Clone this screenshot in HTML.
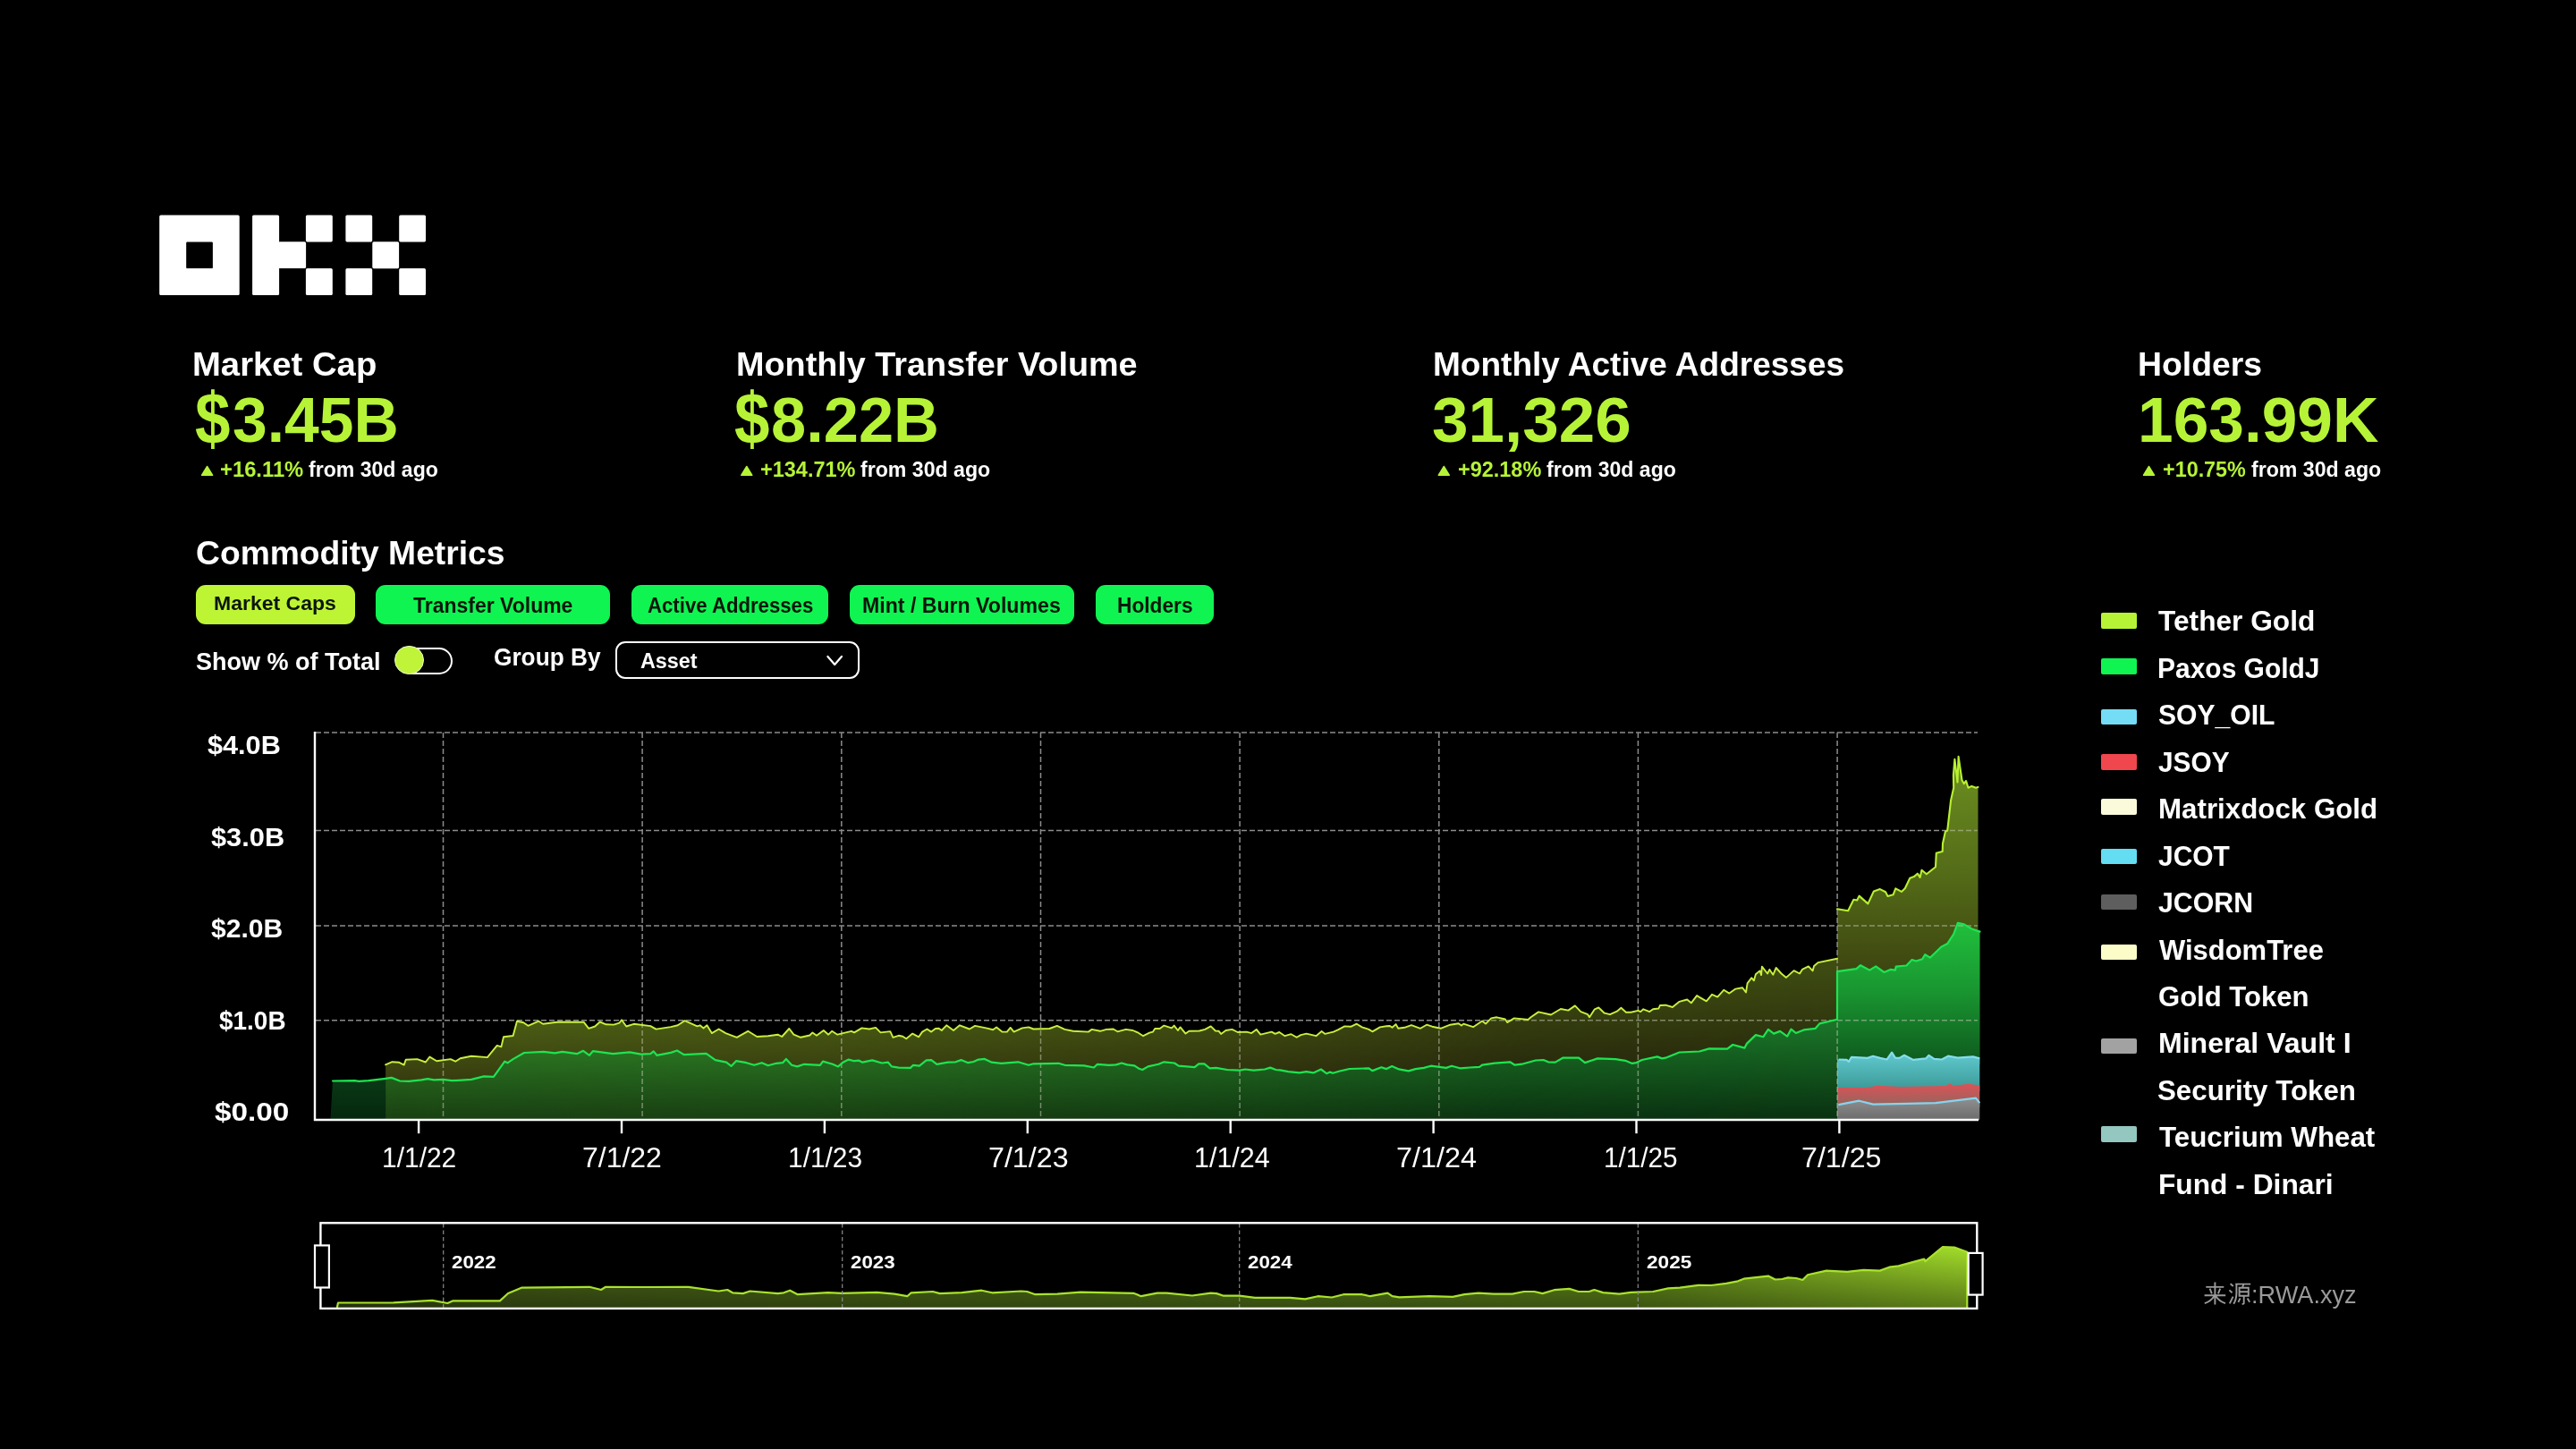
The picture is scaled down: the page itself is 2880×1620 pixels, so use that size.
<!DOCTYPE html>
<html lang="en"><head><meta charset="utf-8"><title>OKX - Commodity Metrics</title>
<style>
html,body{margin:0;padding:0;background:#000;}
body{width:2880px;height:1620px;position:relative;overflow:hidden;font-family:"Liberation Sans", sans-serif;}
.t{position:absolute;white-space:nowrap;line-height:1;transform-origin:0 0;font-family:"Liberation Sans", sans-serif;}
.chart{position:absolute;left:0;top:0;}
.txt{position:absolute;left:0;top:0;width:2880px;height:1620px;will-change:transform;}
.grid{stroke:#8c8c8c;stroke-width:1.5;stroke-dasharray:6 3;}
.g2{stroke:#c4c8b4;}
.btn{position:absolute;top:654px;height:44.2px;border-radius:11px;background:#10f452;}
.btn.on{background:#bdf535;}
.sw{position:absolute;left:2349px;width:40.3px;height:17.5px;border-radius:2px;}
.track{position:absolute;left:446.3px;top:723.5px;width:56px;height:26px;border:2px solid #fff;border-radius:15px;background:#000;}
.knob{position:absolute;left:441.4px;top:722px;width:30.2px;height:30.2px;border-radius:50%;background:#bff438;border:1.6px solid #eefad0;}
.select{position:absolute;left:688.3px;top:717.1px;width:268.8px;height:37.9px;border:2.4px solid #fff;border-radius:11px;background:transparent;}
</style></head>
<body>
<svg class="chart" width="2880" height="1620" viewBox="0 0 2880 1620"><defs>
<linearGradient id="gPre" gradientUnits="userSpaceOnUse" x1="0" y1="1205" x2="0" y2="1252"><stop offset="0" stop-color="#0a3a16"/><stop offset="1" stop-color="#04260d"/></linearGradient>
<linearGradient id="gGreen" gradientUnits="userSpaceOnUse" x1="0" y1="1172" x2="0" y2="1252"><stop offset="0" stop-color="#2c7622"/><stop offset="1" stop-color="#1a4012"/></linearGradient>
<linearGradient id="gGreenH" gradientUnits="userSpaceOnUse" x1="0" y1="1145" x2="0" y2="1252"><stop offset="0" stop-color="#1a7428"/><stop offset="1" stop-color="#093010"/></linearGradient>
<linearGradient id="gMaskH" gradientUnits="userSpaceOnUse" x1="431" y1="0" x2="2054" y2="0"><stop offset="0" stop-color="#000"/><stop offset="0.29" stop-color="#1c1c1c"/><stop offset="0.6" stop-color="#808080"/><stop offset="0.78" stop-color="#e0e0e0"/><stop offset="1" stop-color="#fff"/></linearGradient>
<mask id="mH" maskUnits="userSpaceOnUse" x="420" y="800" width="1650" height="460"><rect x="420" y="800" width="1650" height="460" fill="url(#gMaskH)"/></mask>
<linearGradient id="gYel" gradientUnits="userSpaceOnUse" x1="0" y1="1140" x2="0" y2="1210"><stop offset="0" stop-color="#4c6014"/><stop offset="1" stop-color="#383c10"/></linearGradient>
<linearGradient id="gYelH" gradientUnits="userSpaceOnUse" x1="0" y1="1080" x2="0" y2="1200"><stop offset="0" stop-color="#3e4c12"/><stop offset="1" stop-color="#25250b"/></linearGradient>
<linearGradient id="gYel2" gradientUnits="userSpaceOnUse" x1="0" y1="860" x2="0" y2="1090"><stop offset="0" stop-color="#6a8c20"/><stop offset="0.5" stop-color="#546c18"/><stop offset="1" stop-color="#3c4410"/></linearGradient>
<linearGradient id="gGreen2" gradientUnits="userSpaceOnUse" x1="0" y1="1035" x2="0" y2="1185"><stop offset="0" stop-color="#20be3c"/><stop offset="0.5" stop-color="#199430"/><stop offset="1" stop-color="#0f5c1e"/></linearGradient>
<linearGradient id="gCyan" gradientUnits="userSpaceOnUse" x1="0" y1="1182" x2="0" y2="1216"><stop offset="0" stop-color="#5cc4c8"/><stop offset="1" stop-color="#3e9c9a"/></linearGradient>
<linearGradient id="gRed" gradientUnits="userSpaceOnUse" x1="0" y1="1213" x2="0" y2="1234"><stop offset="0" stop-color="#d85358"/><stop offset="1" stop-color="#9a645c"/></linearGradient>
<linearGradient id="gGray" gradientUnits="userSpaceOnUse" x1="0" y1="1230" x2="0" y2="1252"><stop offset="0" stop-color="#8c8c8c"/><stop offset="1" stop-color="#6c6c6c"/></linearGradient>
<linearGradient id="gNav" gradientUnits="userSpaceOnUse" x1="376" y1="0" x2="2200" y2="0"><stop offset="0" stop-color="#3e5212"/><stop offset="0.1" stop-color="#4e6a1a"/><stop offset="0.5" stop-color="#5c821c"/><stop offset="0.8" stop-color="#6c981e"/><stop offset="1" stop-color="#a2dc2a"/></linearGradient>
<linearGradient id="gNavV" gradientUnits="userSpaceOnUse" x1="0" y1="1395" x2="0" y2="1463"><stop offset="0" stop-color="#000" stop-opacity="0"/><stop offset="1" stop-color="#000" stop-opacity="0.45"/></linearGradient>
</defs><line x1="353.0" y1="818.9" x2="2211" y2="818.9" class="grid"/><line x1="353.0" y1="928.6" x2="2211" y2="928.6" class="grid"/><line x1="353.0" y1="1034.9" x2="2211" y2="1034.9" class="grid"/><line x1="353.0" y1="1140.8" x2="2211" y2="1140.8" class="grid"/><line x1="495.5" y1="819" x2="495.5" y2="1252.0" class="grid"/><line x1="718.1" y1="819" x2="718.1" y2="1252.0" class="grid"/><line x1="940.8" y1="819" x2="940.8" y2="1252.0" class="grid"/><line x1="1163.5" y1="819" x2="1163.5" y2="1252.0" class="grid"/><line x1="1386.1" y1="819" x2="1386.1" y2="1252.0" class="grid"/><line x1="1608.8" y1="819" x2="1608.8" y2="1252.0" class="grid"/><line x1="1831.4" y1="819" x2="1831.4" y2="1252.0" class="grid"/><line x1="2054.1" y1="819" x2="2054.1" y2="1252.0" class="grid"/><polygon points="369.4,1252.0 372.0,1208.5 396.6,1208.2 401.2,1208.9 412.1,1208.2 431.1,1205.8 431.1,1252.0" fill="url(#gPre)"/><polygon points="431.1,1205.8 437.7,1204.9 447.0,1208.5 457.1,1208.9 471.1,1207.4 478.1,1206.1 485.1,1207.4 495.2,1206.9 505.3,1208.2 527.0,1206.9 541.0,1203.4 551.9,1203.8 564.3,1186.7 567.4,1188.3 573.6,1184.1 586.0,1177.0 607.8,1175.9 620.2,1177.4 628.7,1175.9 645.0,1178.2 652.0,1174.8 659.0,1179.8 662.9,1175.1 685.4,1178.2 704.0,1176.3 716.5,1178.7 727.3,1178.2 730.7,1175.4 734.3,1179.8 750.0,1176.9 757.0,1174.5 764.8,1179.2 789.6,1177.9 799.7,1185.1 812.1,1187.7 817.5,1191.9 823.0,1186.2 834.6,1188.2 843.2,1190.8 851.7,1188.2 858.7,1191.3 868.0,1188.8 875.0,1188.2 878.9,1183.9 885.1,1190.8 891.3,1192.4 899.1,1189.8 916.9,1190.8 920.0,1186.6 930.9,1189.8 937.1,1192.4 942.5,1187.7 948.8,1184.6 955.0,1186.2 960.4,1185.7 964.3,1187.7 975.2,1185.4 986.0,1188.5 993.0,1187.7 996.9,1192.4 1004.7,1193.6 1017.9,1193.9 1021.0,1190.8 1027.9,1191.6 1035.7,1185.4 1041.2,1185.1 1047.4,1189.8 1059.8,1187.7 1068.3,1187.3 1074.5,1185.1 1082.3,1188.2 1088.5,1187.0 1093.9,1184.6 1100.9,1183.9 1108.7,1187.7 1119.6,1188.8 1138.2,1187.3 1150.0,1190.8 1155.4,1189.3 1183.4,1188.8 1190.4,1190.8 1212.1,1191.3 1223.0,1193.5 1226.9,1189.8 1240.1,1190.8 1247.8,1190.4 1254.0,1188.5 1260.2,1190.4 1268.0,1191.3 1273.4,1194.7 1277.3,1196.0 1283.5,1192.4 1295.2,1189.8 1301.4,1187.3 1313.0,1188.5 1317.7,1191.6 1335.6,1193.2 1340.2,1189.3 1346.4,1189.3 1352.6,1194.4 1359.6,1193.9 1372.0,1196.0 1386.0,1196.6 1392.2,1195.5 1401.6,1196.6 1414.0,1195.5 1420.2,1193.6 1426.4,1196.0 1431.1,1196.3 1440.4,1198.1 1452.8,1199.4 1460.6,1198.1 1468.3,1199.4 1476.9,1195.5 1483.1,1200.2 1487.0,1198.6 1490.1,1199.8 1497.8,1197.5 1508.7,1195.0 1530.4,1194.4 1534.3,1197.1 1544.4,1193.2 1550.0,1195.1 1556.2,1192.0 1564.0,1195.4 1574.8,1197.4 1582.6,1195.1 1591.9,1193.9 1599.7,1191.7 1616.8,1193.9 1623.0,1191.7 1632.3,1194.3 1643.2,1193.5 1654.0,1192.8 1657.1,1190.7 1671.1,1188.6 1688.2,1187.3 1693.6,1190.7 1701.4,1189.7 1716.9,1185.5 1725.5,1185.0 1730.9,1187.3 1738.7,1187.6 1747.2,1182.7 1765.1,1182.7 1772.0,1188.1 1786.0,1183.4 1806.2,1184.2 1817.1,1185.8 1824.8,1188.9 1829.5,1188.1 1835.7,1185.0 1852.8,1181.4 1858.2,1183.4 1862.1,1182.7 1877.6,1176.5 1900.0,1175.5 1910.9,1172.4 1931.1,1172.7 1937.3,1168.0 1950.5,1171.6 1952.8,1166.9 1962.9,1157.1 1971.4,1159.2 1976.9,1150.9 1983.1,1155.6 1990.1,1152.9 1998.1,1158.7 2002.5,1150.6 2007.9,1155.0 2016.5,1151.4 2029.7,1149.8 2034.3,1144.4 2054.0,1139.8 2054.0,1252.0 431.1,1252.0" fill="url(#gGreen)"/><polygon points="431.1,1205.8 437.7,1204.9 447.0,1208.5 457.1,1208.9 471.1,1207.4 478.1,1206.1 485.1,1207.4 495.2,1206.9 505.3,1208.2 527.0,1206.9 541.0,1203.4 551.9,1203.8 564.3,1186.7 567.4,1188.3 573.6,1184.1 586.0,1177.0 607.8,1175.9 620.2,1177.4 628.7,1175.9 645.0,1178.2 652.0,1174.8 659.0,1179.8 662.9,1175.1 685.4,1178.2 704.0,1176.3 716.5,1178.7 727.3,1178.2 730.7,1175.4 734.3,1179.8 750.0,1176.9 757.0,1174.5 764.8,1179.2 789.6,1177.9 799.7,1185.1 812.1,1187.7 817.5,1191.9 823.0,1186.2 834.6,1188.2 843.2,1190.8 851.7,1188.2 858.7,1191.3 868.0,1188.8 875.0,1188.2 878.9,1183.9 885.1,1190.8 891.3,1192.4 899.1,1189.8 916.9,1190.8 920.0,1186.6 930.9,1189.8 937.1,1192.4 942.5,1187.7 948.8,1184.6 955.0,1186.2 960.4,1185.7 964.3,1187.7 975.2,1185.4 986.0,1188.5 993.0,1187.7 996.9,1192.4 1004.7,1193.6 1017.9,1193.9 1021.0,1190.8 1027.9,1191.6 1035.7,1185.4 1041.2,1185.1 1047.4,1189.8 1059.8,1187.7 1068.3,1187.3 1074.5,1185.1 1082.3,1188.2 1088.5,1187.0 1093.9,1184.6 1100.9,1183.9 1108.7,1187.7 1119.6,1188.8 1138.2,1187.3 1150.0,1190.8 1155.4,1189.3 1183.4,1188.8 1190.4,1190.8 1212.1,1191.3 1223.0,1193.5 1226.9,1189.8 1240.1,1190.8 1247.8,1190.4 1254.0,1188.5 1260.2,1190.4 1268.0,1191.3 1273.4,1194.7 1277.3,1196.0 1283.5,1192.4 1295.2,1189.8 1301.4,1187.3 1313.0,1188.5 1317.7,1191.6 1335.6,1193.2 1340.2,1189.3 1346.4,1189.3 1352.6,1194.4 1359.6,1193.9 1372.0,1196.0 1386.0,1196.6 1392.2,1195.5 1401.6,1196.6 1414.0,1195.5 1420.2,1193.6 1426.4,1196.0 1431.1,1196.3 1440.4,1198.1 1452.8,1199.4 1460.6,1198.1 1468.3,1199.4 1476.9,1195.5 1483.1,1200.2 1487.0,1198.6 1490.1,1199.8 1497.8,1197.5 1508.7,1195.0 1530.4,1194.4 1534.3,1197.1 1544.4,1193.2 1550.0,1195.1 1556.2,1192.0 1564.0,1195.4 1574.8,1197.4 1582.6,1195.1 1591.9,1193.9 1599.7,1191.7 1616.8,1193.9 1623.0,1191.7 1632.3,1194.3 1643.2,1193.5 1654.0,1192.8 1657.1,1190.7 1671.1,1188.6 1688.2,1187.3 1693.6,1190.7 1701.4,1189.7 1716.9,1185.5 1725.5,1185.0 1730.9,1187.3 1738.7,1187.6 1747.2,1182.7 1765.1,1182.7 1772.0,1188.1 1786.0,1183.4 1806.2,1184.2 1817.1,1185.8 1824.8,1188.9 1829.5,1188.1 1835.7,1185.0 1852.8,1181.4 1858.2,1183.4 1862.1,1182.7 1877.6,1176.5 1900.0,1175.5 1910.9,1172.4 1931.1,1172.7 1937.3,1168.0 1950.5,1171.6 1952.8,1166.9 1962.9,1157.1 1971.4,1159.2 1976.9,1150.9 1983.1,1155.6 1990.1,1152.9 1998.1,1158.7 2002.5,1150.6 2007.9,1155.0 2016.5,1151.4 2029.7,1149.8 2034.3,1144.4 2054.0,1139.8 2054.0,1252.0 431.1,1252.0" fill="url(#gGreenH)" mask="url(#mH)"/><polygon points="431.1,1190.3 438.5,1187.2 446.3,1187.8 451.7,1190.6 453.7,1184.7 466.5,1184.1 475.8,1187.5 480.4,1181.6 488.2,1186.3 503.7,1184.1 509.2,1186.7 514.6,1183.2 527.0,1180.8 544.9,1182.1 555.7,1168.9 560.4,1170.4 563.0,1159.3 573.6,1158.0 578.0,1141.7 585.3,1143.3 590.4,1146.8 602.3,1141.7 607.0,1144.8 624.8,1142.5 652.8,1142.8 658.2,1149.9 665.2,1147.5 670.7,1142.5 677.6,1145.3 686.2,1145.6 692.4,1143.7 695.0,1140.2 700.2,1147.5 708.7,1144.8 727.3,1147.1 733.5,1150.6 750.0,1148.1 757.8,1146.3 765.5,1141.1 779.5,1147.4 782.6,1146.3 786.5,1149.4 790.4,1146.3 795.8,1155.1 803.6,1150.5 811.3,1155.1 823.8,1159.8 836.2,1152.8 846.3,1159.0 858.7,1158.2 869.6,1156.7 874.2,1159.0 882.3,1150.0 887.4,1156.7 895.2,1159.8 905.3,1157.5 908.4,1154.4 913.0,1157.8 920.8,1152.0 926.2,1156.7 930.1,1152.8 936.3,1156.7 942.5,1155.1 951.9,1152.8 955.0,1154.4 963.5,1149.4 972.0,1150.5 979.0,1148.9 984.5,1154.4 995.3,1153.1 998.4,1159.8 1004.7,1157.8 1009.3,1158.7 1013.2,1161.3 1020.2,1155.6 1027.2,1159.3 1031.1,1153.6 1036.5,1150.5 1041.2,1153.6 1045.8,1150.0 1049.7,1149.7 1052.8,1152.0 1058.2,1146.3 1066.0,1152.0 1073.0,1146.3 1083.9,1150.5 1090.1,1146.9 1102.5,1149.4 1110.2,1151.2 1114.1,1148.4 1120.3,1153.6 1125.8,1153.6 1129.7,1148.9 1133.5,1153.6 1142.9,1149.4 1150.0,1148.4 1155.4,1150.5 1173.3,1150.0 1181.8,1146.9 1190.4,1150.9 1199.7,1152.8 1216.8,1153.6 1220.7,1150.9 1230.0,1152.8 1237.0,1150.9 1244.7,1150.5 1249.4,1153.3 1258.7,1150.9 1266.5,1152.0 1272.7,1154.7 1278.1,1158.2 1285.1,1154.7 1289.0,1153.6 1291.3,1150.0 1296.7,1150.0 1301.4,1146.6 1309.9,1149.4 1312.7,1146.6 1316.9,1152.0 1319.6,1148.4 1325.5,1155.6 1329.4,1152.8 1341.0,1152.5 1347.2,1150.9 1353.7,1147.4 1358.9,1152.5 1362.7,1152.8 1365.1,1155.9 1370.5,1152.0 1377.5,1150.9 1383.7,1154.0 1393.8,1153.6 1399.2,1155.1 1404.7,1150.9 1409.3,1156.7 1421.7,1153.6 1425.6,1155.9 1430.3,1154.0 1436.5,1158.2 1443.5,1156.2 1449.7,1159.8 1454.3,1157.1 1460.6,1155.6 1471.4,1158.2 1477.6,1153.1 1481.5,1155.9 1490.8,1153.6 1496.3,1151.2 1503.3,1147.4 1510.2,1147.8 1516.8,1144.7 1522.7,1148.4 1530.4,1150.9 1534.3,1153.3 1542.9,1148.4 1550.0,1147.3 1553.9,1147.0 1556.5,1148.8 1560.6,1145.1 1563.2,1149.8 1570.2,1148.8 1578.0,1146.2 1588.0,1149.8 1595.0,1145.7 1601.2,1147.7 1610.6,1149.8 1621.4,1145.7 1630.7,1144.2 1633.9,1146.6 1636.2,1144.6 1647.0,1148.2 1657.1,1141.5 1661.0,1144.6 1667.2,1138.4 1673.4,1137.3 1682.8,1139.5 1685.1,1143.1 1692.9,1138.4 1708.4,1140.0 1711.5,1137.3 1720.0,1131.4 1734.0,1134.5 1744.9,1128.0 1753.4,1129.6 1760.9,1124.4 1767.4,1131.1 1775.2,1134.2 1777.0,1137.3 1782.9,1128.3 1787.3,1126.5 1793.8,1132.7 1800.0,1134.2 1807.8,1130.7 1812.4,1126.8 1817.9,1131.7 1823.3,1131.7 1831.4,1129.9 1834.2,1131.1 1837.3,1128.3 1844.3,1131.1 1848.1,1128.3 1854.4,1127.5 1855.9,1124.0 1862.1,1123.7 1869.9,1126.0 1877.6,1119.8 1886.2,1117.5 1890.8,1121.3 1897.1,1113.1 1900.0,1114.9 1907.8,1119.3 1914.0,1111.8 1920.2,1114.6 1927.2,1106.8 1933.4,1110.6 1940.4,1105.6 1948.1,1104.3 1952.0,1109.5 1953.6,1099.4 1958.2,1093.2 1960.9,1096.3 1962.9,1089.3 1967.5,1085.4 1969.1,1090.1 1969.9,1080.7 1976.1,1088.5 1978.4,1083.9 1982.3,1089.8 1985.7,1082.0 1991.6,1088.5 1997.0,1092.9 2005.6,1085.1 2012.1,1088.5 2014.9,1083.9 2021.9,1080.4 2026.6,1085.4 2028.1,1080.0 2032.8,1076.1 2054.0,1071.7 2054.0,1139.8 2034.3,1144.4 2029.7,1149.8 2016.5,1151.4 2007.9,1155.0 2002.5,1150.6 1998.1,1158.7 1990.1,1152.9 1983.1,1155.6 1976.9,1150.9 1971.4,1159.2 1962.9,1157.1 1952.8,1166.9 1950.5,1171.6 1937.3,1168.0 1931.1,1172.7 1910.9,1172.4 1900.0,1175.5 1877.6,1176.5 1862.1,1182.7 1858.2,1183.4 1852.8,1181.4 1835.7,1185.0 1829.5,1188.1 1824.8,1188.9 1817.1,1185.8 1806.2,1184.2 1786.0,1183.4 1772.0,1188.1 1765.1,1182.7 1747.2,1182.7 1738.7,1187.6 1730.9,1187.3 1725.5,1185.0 1716.9,1185.5 1701.4,1189.7 1693.6,1190.7 1688.2,1187.3 1671.1,1188.6 1657.1,1190.7 1654.0,1192.8 1643.2,1193.5 1632.3,1194.3 1623.0,1191.7 1616.8,1193.9 1599.7,1191.7 1591.9,1193.9 1582.6,1195.1 1574.8,1197.4 1564.0,1195.4 1556.2,1192.0 1550.0,1195.1 1544.4,1193.2 1534.3,1197.1 1530.4,1194.4 1508.7,1195.0 1497.8,1197.5 1490.1,1199.8 1487.0,1198.6 1483.1,1200.2 1476.9,1195.5 1468.3,1199.4 1460.6,1198.1 1452.8,1199.4 1440.4,1198.1 1431.1,1196.3 1426.4,1196.0 1420.2,1193.6 1414.0,1195.5 1401.6,1196.6 1392.2,1195.5 1386.0,1196.6 1372.0,1196.0 1359.6,1193.9 1352.6,1194.4 1346.4,1189.3 1340.2,1189.3 1335.6,1193.2 1317.7,1191.6 1313.0,1188.5 1301.4,1187.3 1295.2,1189.8 1283.5,1192.4 1277.3,1196.0 1273.4,1194.7 1268.0,1191.3 1260.2,1190.4 1254.0,1188.5 1247.8,1190.4 1240.1,1190.8 1226.9,1189.8 1223.0,1193.5 1212.1,1191.3 1190.4,1190.8 1183.4,1188.8 1155.4,1189.3 1150.0,1190.8 1138.2,1187.3 1119.6,1188.8 1108.7,1187.7 1100.9,1183.9 1093.9,1184.6 1088.5,1187.0 1082.3,1188.2 1074.5,1185.1 1068.3,1187.3 1059.8,1187.7 1047.4,1189.8 1041.2,1185.1 1035.7,1185.4 1027.9,1191.6 1021.0,1190.8 1017.9,1193.9 1004.7,1193.6 996.9,1192.4 993.0,1187.7 986.0,1188.5 975.2,1185.4 964.3,1187.7 960.4,1185.7 955.0,1186.2 948.8,1184.6 942.5,1187.7 937.1,1192.4 930.9,1189.8 920.0,1186.6 916.9,1190.8 899.1,1189.8 891.3,1192.4 885.1,1190.8 878.9,1183.9 875.0,1188.2 868.0,1188.8 858.7,1191.3 851.7,1188.2 843.2,1190.8 834.6,1188.2 823.0,1186.2 817.5,1191.9 812.1,1187.7 799.7,1185.1 789.6,1177.9 764.8,1179.2 757.0,1174.5 750.0,1176.9 734.3,1179.8 730.7,1175.4 727.3,1178.2 716.5,1178.7 704.0,1176.3 685.4,1178.2 662.9,1175.1 659.0,1179.8 652.0,1174.8 645.0,1178.2 628.7,1175.9 620.2,1177.4 607.8,1175.9 586.0,1177.0 573.6,1184.1 567.4,1188.3 564.3,1186.7 551.9,1203.8 541.0,1203.4 527.0,1206.9 505.3,1208.2 495.2,1206.9 485.1,1207.4 478.1,1206.1 471.1,1207.4 457.1,1208.9 447.0,1208.5 437.7,1204.9 431.1,1205.8" fill="url(#gYel)"/><polygon points="431.1,1190.3 438.5,1187.2 446.3,1187.8 451.7,1190.6 453.7,1184.7 466.5,1184.1 475.8,1187.5 480.4,1181.6 488.2,1186.3 503.7,1184.1 509.2,1186.7 514.6,1183.2 527.0,1180.8 544.9,1182.1 555.7,1168.9 560.4,1170.4 563.0,1159.3 573.6,1158.0 578.0,1141.7 585.3,1143.3 590.4,1146.8 602.3,1141.7 607.0,1144.8 624.8,1142.5 652.8,1142.8 658.2,1149.9 665.2,1147.5 670.7,1142.5 677.6,1145.3 686.2,1145.6 692.4,1143.7 695.0,1140.2 700.2,1147.5 708.7,1144.8 727.3,1147.1 733.5,1150.6 750.0,1148.1 757.8,1146.3 765.5,1141.1 779.5,1147.4 782.6,1146.3 786.5,1149.4 790.4,1146.3 795.8,1155.1 803.6,1150.5 811.3,1155.1 823.8,1159.8 836.2,1152.8 846.3,1159.0 858.7,1158.2 869.6,1156.7 874.2,1159.0 882.3,1150.0 887.4,1156.7 895.2,1159.8 905.3,1157.5 908.4,1154.4 913.0,1157.8 920.8,1152.0 926.2,1156.7 930.1,1152.8 936.3,1156.7 942.5,1155.1 951.9,1152.8 955.0,1154.4 963.5,1149.4 972.0,1150.5 979.0,1148.9 984.5,1154.4 995.3,1153.1 998.4,1159.8 1004.7,1157.8 1009.3,1158.7 1013.2,1161.3 1020.2,1155.6 1027.2,1159.3 1031.1,1153.6 1036.5,1150.5 1041.2,1153.6 1045.8,1150.0 1049.7,1149.7 1052.8,1152.0 1058.2,1146.3 1066.0,1152.0 1073.0,1146.3 1083.9,1150.5 1090.1,1146.9 1102.5,1149.4 1110.2,1151.2 1114.1,1148.4 1120.3,1153.6 1125.8,1153.6 1129.7,1148.9 1133.5,1153.6 1142.9,1149.4 1150.0,1148.4 1155.4,1150.5 1173.3,1150.0 1181.8,1146.9 1190.4,1150.9 1199.7,1152.8 1216.8,1153.6 1220.7,1150.9 1230.0,1152.8 1237.0,1150.9 1244.7,1150.5 1249.4,1153.3 1258.7,1150.9 1266.5,1152.0 1272.7,1154.7 1278.1,1158.2 1285.1,1154.7 1289.0,1153.6 1291.3,1150.0 1296.7,1150.0 1301.4,1146.6 1309.9,1149.4 1312.7,1146.6 1316.9,1152.0 1319.6,1148.4 1325.5,1155.6 1329.4,1152.8 1341.0,1152.5 1347.2,1150.9 1353.7,1147.4 1358.9,1152.5 1362.7,1152.8 1365.1,1155.9 1370.5,1152.0 1377.5,1150.9 1383.7,1154.0 1393.8,1153.6 1399.2,1155.1 1404.7,1150.9 1409.3,1156.7 1421.7,1153.6 1425.6,1155.9 1430.3,1154.0 1436.5,1158.2 1443.5,1156.2 1449.7,1159.8 1454.3,1157.1 1460.6,1155.6 1471.4,1158.2 1477.6,1153.1 1481.5,1155.9 1490.8,1153.6 1496.3,1151.2 1503.3,1147.4 1510.2,1147.8 1516.8,1144.7 1522.7,1148.4 1530.4,1150.9 1534.3,1153.3 1542.9,1148.4 1550.0,1147.3 1553.9,1147.0 1556.5,1148.8 1560.6,1145.1 1563.2,1149.8 1570.2,1148.8 1578.0,1146.2 1588.0,1149.8 1595.0,1145.7 1601.2,1147.7 1610.6,1149.8 1621.4,1145.7 1630.7,1144.2 1633.9,1146.6 1636.2,1144.6 1647.0,1148.2 1657.1,1141.5 1661.0,1144.6 1667.2,1138.4 1673.4,1137.3 1682.8,1139.5 1685.1,1143.1 1692.9,1138.4 1708.4,1140.0 1711.5,1137.3 1720.0,1131.4 1734.0,1134.5 1744.9,1128.0 1753.4,1129.6 1760.9,1124.4 1767.4,1131.1 1775.2,1134.2 1777.0,1137.3 1782.9,1128.3 1787.3,1126.5 1793.8,1132.7 1800.0,1134.2 1807.8,1130.7 1812.4,1126.8 1817.9,1131.7 1823.3,1131.7 1831.4,1129.9 1834.2,1131.1 1837.3,1128.3 1844.3,1131.1 1848.1,1128.3 1854.4,1127.5 1855.9,1124.0 1862.1,1123.7 1869.9,1126.0 1877.6,1119.8 1886.2,1117.5 1890.8,1121.3 1897.1,1113.1 1900.0,1114.9 1907.8,1119.3 1914.0,1111.8 1920.2,1114.6 1927.2,1106.8 1933.4,1110.6 1940.4,1105.6 1948.1,1104.3 1952.0,1109.5 1953.6,1099.4 1958.2,1093.2 1960.9,1096.3 1962.9,1089.3 1967.5,1085.4 1969.1,1090.1 1969.9,1080.7 1976.1,1088.5 1978.4,1083.9 1982.3,1089.8 1985.7,1082.0 1991.6,1088.5 1997.0,1092.9 2005.6,1085.1 2012.1,1088.5 2014.9,1083.9 2021.9,1080.4 2026.6,1085.4 2028.1,1080.0 2032.8,1076.1 2054.0,1071.7 2054.0,1139.8 2034.3,1144.4 2029.7,1149.8 2016.5,1151.4 2007.9,1155.0 2002.5,1150.6 1998.1,1158.7 1990.1,1152.9 1983.1,1155.6 1976.9,1150.9 1971.4,1159.2 1962.9,1157.1 1952.8,1166.9 1950.5,1171.6 1937.3,1168.0 1931.1,1172.7 1910.9,1172.4 1900.0,1175.5 1877.6,1176.5 1862.1,1182.7 1858.2,1183.4 1852.8,1181.4 1835.7,1185.0 1829.5,1188.1 1824.8,1188.9 1817.1,1185.8 1806.2,1184.2 1786.0,1183.4 1772.0,1188.1 1765.1,1182.7 1747.2,1182.7 1738.7,1187.6 1730.9,1187.3 1725.5,1185.0 1716.9,1185.5 1701.4,1189.7 1693.6,1190.7 1688.2,1187.3 1671.1,1188.6 1657.1,1190.7 1654.0,1192.8 1643.2,1193.5 1632.3,1194.3 1623.0,1191.7 1616.8,1193.9 1599.7,1191.7 1591.9,1193.9 1582.6,1195.1 1574.8,1197.4 1564.0,1195.4 1556.2,1192.0 1550.0,1195.1 1544.4,1193.2 1534.3,1197.1 1530.4,1194.4 1508.7,1195.0 1497.8,1197.5 1490.1,1199.8 1487.0,1198.6 1483.1,1200.2 1476.9,1195.5 1468.3,1199.4 1460.6,1198.1 1452.8,1199.4 1440.4,1198.1 1431.1,1196.3 1426.4,1196.0 1420.2,1193.6 1414.0,1195.5 1401.6,1196.6 1392.2,1195.5 1386.0,1196.6 1372.0,1196.0 1359.6,1193.9 1352.6,1194.4 1346.4,1189.3 1340.2,1189.3 1335.6,1193.2 1317.7,1191.6 1313.0,1188.5 1301.4,1187.3 1295.2,1189.8 1283.5,1192.4 1277.3,1196.0 1273.4,1194.7 1268.0,1191.3 1260.2,1190.4 1254.0,1188.5 1247.8,1190.4 1240.1,1190.8 1226.9,1189.8 1223.0,1193.5 1212.1,1191.3 1190.4,1190.8 1183.4,1188.8 1155.4,1189.3 1150.0,1190.8 1138.2,1187.3 1119.6,1188.8 1108.7,1187.7 1100.9,1183.9 1093.9,1184.6 1088.5,1187.0 1082.3,1188.2 1074.5,1185.1 1068.3,1187.3 1059.8,1187.7 1047.4,1189.8 1041.2,1185.1 1035.7,1185.4 1027.9,1191.6 1021.0,1190.8 1017.9,1193.9 1004.7,1193.6 996.9,1192.4 993.0,1187.7 986.0,1188.5 975.2,1185.4 964.3,1187.7 960.4,1185.7 955.0,1186.2 948.8,1184.6 942.5,1187.7 937.1,1192.4 930.9,1189.8 920.0,1186.6 916.9,1190.8 899.1,1189.8 891.3,1192.4 885.1,1190.8 878.9,1183.9 875.0,1188.2 868.0,1188.8 858.7,1191.3 851.7,1188.2 843.2,1190.8 834.6,1188.2 823.0,1186.2 817.5,1191.9 812.1,1187.7 799.7,1185.1 789.6,1177.9 764.8,1179.2 757.0,1174.5 750.0,1176.9 734.3,1179.8 730.7,1175.4 727.3,1178.2 716.5,1178.7 704.0,1176.3 685.4,1178.2 662.9,1175.1 659.0,1179.8 652.0,1174.8 645.0,1178.2 628.7,1175.9 620.2,1177.4 607.8,1175.9 586.0,1177.0 573.6,1184.1 567.4,1188.3 564.3,1186.7 551.9,1203.8 541.0,1203.4 527.0,1206.9 505.3,1208.2 495.2,1206.9 485.1,1207.4 478.1,1206.1 471.1,1207.4 457.1,1208.9 447.0,1208.5 437.7,1204.9 431.1,1205.8" fill="url(#gYelH)" mask="url(#mH)"/><polygon points="2054.0,1016.2 2066.2,1018.2 2072.4,1005.7 2076.2,1006.5 2078.6,1001.6 2088.4,1010.4 2094.9,996.4 2101.9,994.1 2108.1,997.2 2110.4,1001.9 2116.6,1000.3 2119.3,993.3 2125.9,996.9 2129.8,993.3 2135.3,981.7 2139.9,980.1 2143.8,976.7 2146.6,980.9 2148.5,972.7 2153.9,977.3 2164.0,969.3 2164.8,953.7 2171.7,951.9 2172.0,942.9 2174.9,929.7 2177.2,928.6 2181.1,894.7 2184.2,880.7 2183.9,866.8 2185.4,848.9 2188.5,874.5 2189.6,845.8 2193.5,872.2 2195.8,876.1 2198.1,873.0 2200.5,880.7 2204.4,878.9 2209.0,880.7 2211.5,880.0 2211.5,1045.0 2204.4,1038.5 2195.8,1033.4 2188.8,1031.8 2184.2,1044.3 2177.2,1055.1 2170.2,1058.7 2157.8,1070.7 2152.3,1067.1 2149.2,1072.2 2142.2,1074.5 2137.6,1073.0 2131.4,1079.5 2119.7,1080.7 2118.9,1084.6 2113.5,1083.9 2106.5,1087.0 2097.2,1080.4 2090.2,1084.6 2080.1,1079.2 2075.5,1083.1 2064.6,1084.6 2054.0,1086.2" fill="url(#gYel2)"/><polygon points="2054.0,1086.2 2064.6,1084.6 2075.5,1083.1 2080.1,1079.2 2090.2,1084.6 2097.2,1080.4 2106.5,1087.0 2113.5,1083.9 2118.9,1084.6 2119.7,1080.7 2131.4,1079.5 2137.6,1073.0 2142.2,1074.5 2149.2,1072.2 2152.3,1067.1 2157.8,1070.7 2170.2,1058.7 2177.2,1055.1 2184.2,1044.3 2188.8,1031.8 2195.8,1033.4 2204.4,1038.5 2213.5,1041.6 2213.5,1190.0 2054.0,1190.0" fill="url(#gGreen2)"/><polygon points="2055.7,1184.5 2064.6,1184.9 2066.9,1187.0 2070.0,1181.8 2087.9,1182.9 2094.1,1180.7 2101.9,1182.9 2109.6,1184.5 2115.1,1176.7 2118.9,1182.6 2123.6,1182.9 2129.0,1179.8 2139.1,1184.9 2153.1,1183.4 2156.5,1179.8 2162.4,1183.9 2171.0,1184.5 2178.0,1180.7 2188.8,1182.6 2205.9,1181.4 2213.3,1183.4 2213.3,1220.0 2054.0,1220.0 2054.0,1184.5" fill="url(#gCyan)"/><polygon points="2054.0,1216.0 2086.3,1216.0 2098.8,1213.7 2125.2,1214.9 2176.4,1214.0 2179.5,1211.3 2184.2,1213.7 2201.2,1211.8 2213.3,1213.4 2213.3,1238.0 2054.0,1238.0" fill="url(#gRed)"/><polygon points="2055.3,1235.1 2078.6,1230.7 2094.1,1234.6 2132.9,1233.9 2164.0,1233.1 2209.0,1227.6 2213.3,1233.1 2213.3,1252.0 2054.0,1252.0 2054.0,1235.1" fill="url(#gGray)"/><clipPath id="fillclip"><polygon points="369.4,1252.0 372.0,1208.5 396.6,1208.2 401.2,1208.9 412.1,1208.2 431.1,1205.8 431.1,1252.0"/><polygon points="431.1,1205.8 437.7,1204.9 447.0,1208.5 457.1,1208.9 471.1,1207.4 478.1,1206.1 485.1,1207.4 495.2,1206.9 505.3,1208.2 527.0,1206.9 541.0,1203.4 551.9,1203.8 564.3,1186.7 567.4,1188.3 573.6,1184.1 586.0,1177.0 607.8,1175.9 620.2,1177.4 628.7,1175.9 645.0,1178.2 652.0,1174.8 659.0,1179.8 662.9,1175.1 685.4,1178.2 704.0,1176.3 716.5,1178.7 727.3,1178.2 730.7,1175.4 734.3,1179.8 750.0,1176.9 757.0,1174.5 764.8,1179.2 789.6,1177.9 799.7,1185.1 812.1,1187.7 817.5,1191.9 823.0,1186.2 834.6,1188.2 843.2,1190.8 851.7,1188.2 858.7,1191.3 868.0,1188.8 875.0,1188.2 878.9,1183.9 885.1,1190.8 891.3,1192.4 899.1,1189.8 916.9,1190.8 920.0,1186.6 930.9,1189.8 937.1,1192.4 942.5,1187.7 948.8,1184.6 955.0,1186.2 960.4,1185.7 964.3,1187.7 975.2,1185.4 986.0,1188.5 993.0,1187.7 996.9,1192.4 1004.7,1193.6 1017.9,1193.9 1021.0,1190.8 1027.9,1191.6 1035.7,1185.4 1041.2,1185.1 1047.4,1189.8 1059.8,1187.7 1068.3,1187.3 1074.5,1185.1 1082.3,1188.2 1088.5,1187.0 1093.9,1184.6 1100.9,1183.9 1108.7,1187.7 1119.6,1188.8 1138.2,1187.3 1150.0,1190.8 1155.4,1189.3 1183.4,1188.8 1190.4,1190.8 1212.1,1191.3 1223.0,1193.5 1226.9,1189.8 1240.1,1190.8 1247.8,1190.4 1254.0,1188.5 1260.2,1190.4 1268.0,1191.3 1273.4,1194.7 1277.3,1196.0 1283.5,1192.4 1295.2,1189.8 1301.4,1187.3 1313.0,1188.5 1317.7,1191.6 1335.6,1193.2 1340.2,1189.3 1346.4,1189.3 1352.6,1194.4 1359.6,1193.9 1372.0,1196.0 1386.0,1196.6 1392.2,1195.5 1401.6,1196.6 1414.0,1195.5 1420.2,1193.6 1426.4,1196.0 1431.1,1196.3 1440.4,1198.1 1452.8,1199.4 1460.6,1198.1 1468.3,1199.4 1476.9,1195.5 1483.1,1200.2 1487.0,1198.6 1490.1,1199.8 1497.8,1197.5 1508.7,1195.0 1530.4,1194.4 1534.3,1197.1 1544.4,1193.2 1550.0,1195.1 1556.2,1192.0 1564.0,1195.4 1574.8,1197.4 1582.6,1195.1 1591.9,1193.9 1599.7,1191.7 1616.8,1193.9 1623.0,1191.7 1632.3,1194.3 1643.2,1193.5 1654.0,1192.8 1657.1,1190.7 1671.1,1188.6 1688.2,1187.3 1693.6,1190.7 1701.4,1189.7 1716.9,1185.5 1725.5,1185.0 1730.9,1187.3 1738.7,1187.6 1747.2,1182.7 1765.1,1182.7 1772.0,1188.1 1786.0,1183.4 1806.2,1184.2 1817.1,1185.8 1824.8,1188.9 1829.5,1188.1 1835.7,1185.0 1852.8,1181.4 1858.2,1183.4 1862.1,1182.7 1877.6,1176.5 1900.0,1175.5 1910.9,1172.4 1931.1,1172.7 1937.3,1168.0 1950.5,1171.6 1952.8,1166.9 1962.9,1157.1 1971.4,1159.2 1976.9,1150.9 1983.1,1155.6 1990.1,1152.9 1998.1,1158.7 2002.5,1150.6 2007.9,1155.0 2016.5,1151.4 2029.7,1149.8 2034.3,1144.4 2054.0,1139.8 2054.0,1252.0 431.1,1252.0"/><polygon points="431.1,1190.3 438.5,1187.2 446.3,1187.8 451.7,1190.6 453.7,1184.7 466.5,1184.1 475.8,1187.5 480.4,1181.6 488.2,1186.3 503.7,1184.1 509.2,1186.7 514.6,1183.2 527.0,1180.8 544.9,1182.1 555.7,1168.9 560.4,1170.4 563.0,1159.3 573.6,1158.0 578.0,1141.7 585.3,1143.3 590.4,1146.8 602.3,1141.7 607.0,1144.8 624.8,1142.5 652.8,1142.8 658.2,1149.9 665.2,1147.5 670.7,1142.5 677.6,1145.3 686.2,1145.6 692.4,1143.7 695.0,1140.2 700.2,1147.5 708.7,1144.8 727.3,1147.1 733.5,1150.6 750.0,1148.1 757.8,1146.3 765.5,1141.1 779.5,1147.4 782.6,1146.3 786.5,1149.4 790.4,1146.3 795.8,1155.1 803.6,1150.5 811.3,1155.1 823.8,1159.8 836.2,1152.8 846.3,1159.0 858.7,1158.2 869.6,1156.7 874.2,1159.0 882.3,1150.0 887.4,1156.7 895.2,1159.8 905.3,1157.5 908.4,1154.4 913.0,1157.8 920.8,1152.0 926.2,1156.7 930.1,1152.8 936.3,1156.7 942.5,1155.1 951.9,1152.8 955.0,1154.4 963.5,1149.4 972.0,1150.5 979.0,1148.9 984.5,1154.4 995.3,1153.1 998.4,1159.8 1004.7,1157.8 1009.3,1158.7 1013.2,1161.3 1020.2,1155.6 1027.2,1159.3 1031.1,1153.6 1036.5,1150.5 1041.2,1153.6 1045.8,1150.0 1049.7,1149.7 1052.8,1152.0 1058.2,1146.3 1066.0,1152.0 1073.0,1146.3 1083.9,1150.5 1090.1,1146.9 1102.5,1149.4 1110.2,1151.2 1114.1,1148.4 1120.3,1153.6 1125.8,1153.6 1129.7,1148.9 1133.5,1153.6 1142.9,1149.4 1150.0,1148.4 1155.4,1150.5 1173.3,1150.0 1181.8,1146.9 1190.4,1150.9 1199.7,1152.8 1216.8,1153.6 1220.7,1150.9 1230.0,1152.8 1237.0,1150.9 1244.7,1150.5 1249.4,1153.3 1258.7,1150.9 1266.5,1152.0 1272.7,1154.7 1278.1,1158.2 1285.1,1154.7 1289.0,1153.6 1291.3,1150.0 1296.7,1150.0 1301.4,1146.6 1309.9,1149.4 1312.7,1146.6 1316.9,1152.0 1319.6,1148.4 1325.5,1155.6 1329.4,1152.8 1341.0,1152.5 1347.2,1150.9 1353.7,1147.4 1358.9,1152.5 1362.7,1152.8 1365.1,1155.9 1370.5,1152.0 1377.5,1150.9 1383.7,1154.0 1393.8,1153.6 1399.2,1155.1 1404.7,1150.9 1409.3,1156.7 1421.7,1153.6 1425.6,1155.9 1430.3,1154.0 1436.5,1158.2 1443.5,1156.2 1449.7,1159.8 1454.3,1157.1 1460.6,1155.6 1471.4,1158.2 1477.6,1153.1 1481.5,1155.9 1490.8,1153.6 1496.3,1151.2 1503.3,1147.4 1510.2,1147.8 1516.8,1144.7 1522.7,1148.4 1530.4,1150.9 1534.3,1153.3 1542.9,1148.4 1550.0,1147.3 1553.9,1147.0 1556.5,1148.8 1560.6,1145.1 1563.2,1149.8 1570.2,1148.8 1578.0,1146.2 1588.0,1149.8 1595.0,1145.7 1601.2,1147.7 1610.6,1149.8 1621.4,1145.7 1630.7,1144.2 1633.9,1146.6 1636.2,1144.6 1647.0,1148.2 1657.1,1141.5 1661.0,1144.6 1667.2,1138.4 1673.4,1137.3 1682.8,1139.5 1685.1,1143.1 1692.9,1138.4 1708.4,1140.0 1711.5,1137.3 1720.0,1131.4 1734.0,1134.5 1744.9,1128.0 1753.4,1129.6 1760.9,1124.4 1767.4,1131.1 1775.2,1134.2 1777.0,1137.3 1782.9,1128.3 1787.3,1126.5 1793.8,1132.7 1800.0,1134.2 1807.8,1130.7 1812.4,1126.8 1817.9,1131.7 1823.3,1131.7 1831.4,1129.9 1834.2,1131.1 1837.3,1128.3 1844.3,1131.1 1848.1,1128.3 1854.4,1127.5 1855.9,1124.0 1862.1,1123.7 1869.9,1126.0 1877.6,1119.8 1886.2,1117.5 1890.8,1121.3 1897.1,1113.1 1900.0,1114.9 1907.8,1119.3 1914.0,1111.8 1920.2,1114.6 1927.2,1106.8 1933.4,1110.6 1940.4,1105.6 1948.1,1104.3 1952.0,1109.5 1953.6,1099.4 1958.2,1093.2 1960.9,1096.3 1962.9,1089.3 1967.5,1085.4 1969.1,1090.1 1969.9,1080.7 1976.1,1088.5 1978.4,1083.9 1982.3,1089.8 1985.7,1082.0 1991.6,1088.5 1997.0,1092.9 2005.6,1085.1 2012.1,1088.5 2014.9,1083.9 2021.9,1080.4 2026.6,1085.4 2028.1,1080.0 2032.8,1076.1 2054.0,1071.7 2054.0,1139.8 2034.3,1144.4 2029.7,1149.8 2016.5,1151.4 2007.9,1155.0 2002.5,1150.6 1998.1,1158.7 1990.1,1152.9 1983.1,1155.6 1976.9,1150.9 1971.4,1159.2 1962.9,1157.1 1952.8,1166.9 1950.5,1171.6 1937.3,1168.0 1931.1,1172.7 1910.9,1172.4 1900.0,1175.5 1877.6,1176.5 1862.1,1182.7 1858.2,1183.4 1852.8,1181.4 1835.7,1185.0 1829.5,1188.1 1824.8,1188.9 1817.1,1185.8 1806.2,1184.2 1786.0,1183.4 1772.0,1188.1 1765.1,1182.7 1747.2,1182.7 1738.7,1187.6 1730.9,1187.3 1725.5,1185.0 1716.9,1185.5 1701.4,1189.7 1693.6,1190.7 1688.2,1187.3 1671.1,1188.6 1657.1,1190.7 1654.0,1192.8 1643.2,1193.5 1632.3,1194.3 1623.0,1191.7 1616.8,1193.9 1599.7,1191.7 1591.9,1193.9 1582.6,1195.1 1574.8,1197.4 1564.0,1195.4 1556.2,1192.0 1550.0,1195.1 1544.4,1193.2 1534.3,1197.1 1530.4,1194.4 1508.7,1195.0 1497.8,1197.5 1490.1,1199.8 1487.0,1198.6 1483.1,1200.2 1476.9,1195.5 1468.3,1199.4 1460.6,1198.1 1452.8,1199.4 1440.4,1198.1 1431.1,1196.3 1426.4,1196.0 1420.2,1193.6 1414.0,1195.5 1401.6,1196.6 1392.2,1195.5 1386.0,1196.6 1372.0,1196.0 1359.6,1193.9 1352.6,1194.4 1346.4,1189.3 1340.2,1189.3 1335.6,1193.2 1317.7,1191.6 1313.0,1188.5 1301.4,1187.3 1295.2,1189.8 1283.5,1192.4 1277.3,1196.0 1273.4,1194.7 1268.0,1191.3 1260.2,1190.4 1254.0,1188.5 1247.8,1190.4 1240.1,1190.8 1226.9,1189.8 1223.0,1193.5 1212.1,1191.3 1190.4,1190.8 1183.4,1188.8 1155.4,1189.3 1150.0,1190.8 1138.2,1187.3 1119.6,1188.8 1108.7,1187.7 1100.9,1183.9 1093.9,1184.6 1088.5,1187.0 1082.3,1188.2 1074.5,1185.1 1068.3,1187.3 1059.8,1187.7 1047.4,1189.8 1041.2,1185.1 1035.7,1185.4 1027.9,1191.6 1021.0,1190.8 1017.9,1193.9 1004.7,1193.6 996.9,1192.4 993.0,1187.7 986.0,1188.5 975.2,1185.4 964.3,1187.7 960.4,1185.7 955.0,1186.2 948.8,1184.6 942.5,1187.7 937.1,1192.4 930.9,1189.8 920.0,1186.6 916.9,1190.8 899.1,1189.8 891.3,1192.4 885.1,1190.8 878.9,1183.9 875.0,1188.2 868.0,1188.8 858.7,1191.3 851.7,1188.2 843.2,1190.8 834.6,1188.2 823.0,1186.2 817.5,1191.9 812.1,1187.7 799.7,1185.1 789.6,1177.9 764.8,1179.2 757.0,1174.5 750.0,1176.9 734.3,1179.8 730.7,1175.4 727.3,1178.2 716.5,1178.7 704.0,1176.3 685.4,1178.2 662.9,1175.1 659.0,1179.8 652.0,1174.8 645.0,1178.2 628.7,1175.9 620.2,1177.4 607.8,1175.9 586.0,1177.0 573.6,1184.1 567.4,1188.3 564.3,1186.7 551.9,1203.8 541.0,1203.4 527.0,1206.9 505.3,1208.2 495.2,1206.9 485.1,1207.4 478.1,1206.1 471.1,1207.4 457.1,1208.9 447.0,1208.5 437.7,1204.9 431.1,1205.8"/><polygon points="2054.0,1016.2 2066.2,1018.2 2072.4,1005.7 2076.2,1006.5 2078.6,1001.6 2088.4,1010.4 2094.9,996.4 2101.9,994.1 2108.1,997.2 2110.4,1001.9 2116.6,1000.3 2119.3,993.3 2125.9,996.9 2129.8,993.3 2135.3,981.7 2139.9,980.1 2143.8,976.7 2146.6,980.9 2148.5,972.7 2153.9,977.3 2164.0,969.3 2164.8,953.7 2171.7,951.9 2172.0,942.9 2174.9,929.7 2177.2,928.6 2181.1,894.7 2184.2,880.7 2183.9,866.8 2185.4,848.9 2188.5,874.5 2189.6,845.8 2193.5,872.2 2195.8,876.1 2198.1,873.0 2200.5,880.7 2204.4,878.9 2209.0,880.7 2211.5,880.0 2211.5,1045.0 2204.4,1038.5 2195.8,1033.4 2188.8,1031.8 2184.2,1044.3 2177.2,1055.1 2170.2,1058.7 2157.8,1070.7 2152.3,1067.1 2149.2,1072.2 2142.2,1074.5 2137.6,1073.0 2131.4,1079.5 2119.7,1080.7 2118.9,1084.6 2113.5,1083.9 2106.5,1087.0 2097.2,1080.4 2090.2,1084.6 2080.1,1079.2 2075.5,1083.1 2064.6,1084.6 2054.0,1086.2"/><polygon points="2054.0,1086.2 2064.6,1084.6 2075.5,1083.1 2080.1,1079.2 2090.2,1084.6 2097.2,1080.4 2106.5,1087.0 2113.5,1083.9 2118.9,1084.6 2119.7,1080.7 2131.4,1079.5 2137.6,1073.0 2142.2,1074.5 2149.2,1072.2 2152.3,1067.1 2157.8,1070.7 2170.2,1058.7 2177.2,1055.1 2184.2,1044.3 2188.8,1031.8 2195.8,1033.4 2204.4,1038.5 2213.5,1041.6 2213.5,1190.0 2054.0,1190.0"/><rect x="2054" y="1180" width="159.3" height="72.0"/></clipPath><g clip-path="url(#fillclip)" opacity="0.55"><line x1="353.0" y1="818.9" x2="2211" y2="818.9" class="grid g2"/><line x1="353.0" y1="928.6" x2="2211" y2="928.6" class="grid g2"/><line x1="353.0" y1="1034.9" x2="2211" y2="1034.9" class="grid g2"/><line x1="353.0" y1="1140.8" x2="2211" y2="1140.8" class="grid g2"/><line x1="495.5" y1="819" x2="495.5" y2="1252.0" class="grid g2"/><line x1="718.1" y1="819" x2="718.1" y2="1252.0" class="grid g2"/><line x1="940.8" y1="819" x2="940.8" y2="1252.0" class="grid g2"/><line x1="1163.5" y1="819" x2="1163.5" y2="1252.0" class="grid g2"/><line x1="1386.1" y1="819" x2="1386.1" y2="1252.0" class="grid g2"/><line x1="1608.8" y1="819" x2="1608.8" y2="1252.0" class="grid g2"/><line x1="1831.4" y1="819" x2="1831.4" y2="1252.0" class="grid g2"/><line x1="2054.1" y1="819" x2="2054.1" y2="1252.0" class="grid g2"/></g><path d="M2055.7 1184.5 L2064.6 1184.9 L2066.9 1187.0 L2070.0 1181.8 L2087.9 1182.9 L2094.1 1180.7 L2101.9 1182.9 L2109.6 1184.5 L2115.1 1176.7 L2118.9 1182.6 L2123.6 1182.9 L2129.0 1179.8 L2139.1 1184.9 L2153.1 1183.4 L2156.5 1179.8 L2162.4 1183.9 L2171.0 1184.5 L2178.0 1180.7 L2188.8 1182.6 L2205.9 1181.4 L2213.3 1183.4" fill="none" stroke="#86dcec" stroke-width="2.2" stroke-linejoin="round"/><path d="M2055.3 1235.1 L2078.6 1230.7 L2094.1 1234.6 L2132.9 1233.9 L2164.0 1233.1 L2209.0 1227.6 L2213.3 1233.1" fill="none" stroke="#86d4ee" stroke-width="2.2" stroke-linejoin="round"/><path d="M372.0 1208.5 L396.6 1208.2 L401.2 1208.9 L412.1 1208.2 L431.1 1205.8 L437.7 1204.9 L447.0 1208.5 L457.1 1208.9 L471.1 1207.4 L478.1 1206.1 L485.1 1207.4 L495.2 1206.9 L505.3 1208.2 L527.0 1206.9 L541.0 1203.4 L551.9 1203.8 L564.3 1186.7 L567.4 1188.3 L573.6 1184.1 L586.0 1177.0 L607.8 1175.9 L620.2 1177.4 L628.7 1175.9 L645.0 1178.2 L652.0 1174.8 L659.0 1179.8 L662.9 1175.1 L685.4 1178.2 L704.0 1176.3 L716.5 1178.7 L727.3 1178.2 L730.7 1175.4 L734.3 1179.8 L750.0 1176.9 L757.0 1174.5 L764.8 1179.2 L789.6 1177.9 L799.7 1185.1 L812.1 1187.7 L817.5 1191.9 L823.0 1186.2 L834.6 1188.2 L843.2 1190.8 L851.7 1188.2 L858.7 1191.3 L868.0 1188.8 L875.0 1188.2 L878.9 1183.9 L885.1 1190.8 L891.3 1192.4 L899.1 1189.8 L916.9 1190.8 L920.0 1186.6 L930.9 1189.8 L937.1 1192.4 L942.5 1187.7 L948.8 1184.6 L955.0 1186.2 L960.4 1185.7 L964.3 1187.7 L975.2 1185.4 L986.0 1188.5 L993.0 1187.7 L996.9 1192.4 L1004.7 1193.6 L1017.9 1193.9 L1021.0 1190.8 L1027.9 1191.6 L1035.7 1185.4 L1041.2 1185.1 L1047.4 1189.8 L1059.8 1187.7 L1068.3 1187.3 L1074.5 1185.1 L1082.3 1188.2 L1088.5 1187.0 L1093.9 1184.6 L1100.9 1183.9 L1108.7 1187.7 L1119.6 1188.8 L1138.2 1187.3 L1150.0 1190.8 L1155.4 1189.3 L1183.4 1188.8 L1190.4 1190.8 L1212.1 1191.3 L1223.0 1193.5 L1226.9 1189.8 L1240.1 1190.8 L1247.8 1190.4 L1254.0 1188.5 L1260.2 1190.4 L1268.0 1191.3 L1273.4 1194.7 L1277.3 1196.0 L1283.5 1192.4 L1295.2 1189.8 L1301.4 1187.3 L1313.0 1188.5 L1317.7 1191.6 L1335.6 1193.2 L1340.2 1189.3 L1346.4 1189.3 L1352.6 1194.4 L1359.6 1193.9 L1372.0 1196.0 L1386.0 1196.6 L1392.2 1195.5 L1401.6 1196.6 L1414.0 1195.5 L1420.2 1193.6 L1426.4 1196.0 L1431.1 1196.3 L1440.4 1198.1 L1452.8 1199.4 L1460.6 1198.1 L1468.3 1199.4 L1476.9 1195.5 L1483.1 1200.2 L1487.0 1198.6 L1490.1 1199.8 L1497.8 1197.5 L1508.7 1195.0 L1530.4 1194.4 L1534.3 1197.1 L1544.4 1193.2 L1550.0 1195.1 L1556.2 1192.0 L1564.0 1195.4 L1574.8 1197.4 L1582.6 1195.1 L1591.9 1193.9 L1599.7 1191.7 L1616.8 1193.9 L1623.0 1191.7 L1632.3 1194.3 L1643.2 1193.5 L1654.0 1192.8 L1657.1 1190.7 L1671.1 1188.6 L1688.2 1187.3 L1693.6 1190.7 L1701.4 1189.7 L1716.9 1185.5 L1725.5 1185.0 L1730.9 1187.3 L1738.7 1187.6 L1747.2 1182.7 L1765.1 1182.7 L1772.0 1188.1 L1786.0 1183.4 L1806.2 1184.2 L1817.1 1185.8 L1824.8 1188.9 L1829.5 1188.1 L1835.7 1185.0 L1852.8 1181.4 L1858.2 1183.4 L1862.1 1182.7 L1877.6 1176.5 L1900.0 1175.5 L1910.9 1172.4 L1931.1 1172.7 L1937.3 1168.0 L1950.5 1171.6 L1952.8 1166.9 L1962.9 1157.1 L1971.4 1159.2 L1976.9 1150.9 L1983.1 1155.6 L1990.1 1152.9 L1998.1 1158.7 L2002.5 1150.6 L2007.9 1155.0 L2016.5 1151.4 L2029.7 1149.8 L2034.3 1144.4 L2054.0 1139.8 L2054.0 1086.2 L2064.6 1084.6 L2075.5 1083.1 L2080.1 1079.2 L2090.2 1084.6 L2097.2 1080.4 L2106.5 1087.0 L2113.5 1083.9 L2118.9 1084.6 L2119.7 1080.7 L2131.4 1079.5 L2137.6 1073.0 L2142.2 1074.5 L2149.2 1072.2 L2152.3 1067.1 L2157.8 1070.7 L2170.2 1058.7 L2177.2 1055.1 L2184.2 1044.3 L2188.8 1031.8 L2195.8 1033.4 L2204.4 1038.5 L2213.5 1041.6" fill="none" stroke="#1fe352" stroke-width="2.2" stroke-linejoin="round" stroke-linecap="round"/><path d="M431.1 1190.3 L438.5 1187.2 L446.3 1187.8 L451.7 1190.6 L453.7 1184.7 L466.5 1184.1 L475.8 1187.5 L480.4 1181.6 L488.2 1186.3 L503.7 1184.1 L509.2 1186.7 L514.6 1183.2 L527.0 1180.8 L544.9 1182.1 L555.7 1168.9 L560.4 1170.4 L563.0 1159.3 L573.6 1158.0 L578.0 1141.7 L585.3 1143.3 L590.4 1146.8 L602.3 1141.7 L607.0 1144.8 L624.8 1142.5 L652.8 1142.8 L658.2 1149.9 L665.2 1147.5 L670.7 1142.5 L677.6 1145.3 L686.2 1145.6 L692.4 1143.7 L695.0 1140.2 L700.2 1147.5 L708.7 1144.8 L727.3 1147.1 L733.5 1150.6 L750.0 1148.1 L757.8 1146.3 L765.5 1141.1 L779.5 1147.4 L782.6 1146.3 L786.5 1149.4 L790.4 1146.3 L795.8 1155.1 L803.6 1150.5 L811.3 1155.1 L823.8 1159.8 L836.2 1152.8 L846.3 1159.0 L858.7 1158.2 L869.6 1156.7 L874.2 1159.0 L882.3 1150.0 L887.4 1156.7 L895.2 1159.8 L905.3 1157.5 L908.4 1154.4 L913.0 1157.8 L920.8 1152.0 L926.2 1156.7 L930.1 1152.8 L936.3 1156.7 L942.5 1155.1 L951.9 1152.8 L955.0 1154.4 L963.5 1149.4 L972.0 1150.5 L979.0 1148.9 L984.5 1154.4 L995.3 1153.1 L998.4 1159.8 L1004.7 1157.8 L1009.3 1158.7 L1013.2 1161.3 L1020.2 1155.6 L1027.2 1159.3 L1031.1 1153.6 L1036.5 1150.5 L1041.2 1153.6 L1045.8 1150.0 L1049.7 1149.7 L1052.8 1152.0 L1058.2 1146.3 L1066.0 1152.0 L1073.0 1146.3 L1083.9 1150.5 L1090.1 1146.9 L1102.5 1149.4 L1110.2 1151.2 L1114.1 1148.4 L1120.3 1153.6 L1125.8 1153.6 L1129.7 1148.9 L1133.5 1153.6 L1142.9 1149.4 L1150.0 1148.4 L1155.4 1150.5 L1173.3 1150.0 L1181.8 1146.9 L1190.4 1150.9 L1199.7 1152.8 L1216.8 1153.6 L1220.7 1150.9 L1230.0 1152.8 L1237.0 1150.9 L1244.7 1150.5 L1249.4 1153.3 L1258.7 1150.9 L1266.5 1152.0 L1272.7 1154.7 L1278.1 1158.2 L1285.1 1154.7 L1289.0 1153.6 L1291.3 1150.0 L1296.7 1150.0 L1301.4 1146.6 L1309.9 1149.4 L1312.7 1146.6 L1316.9 1152.0 L1319.6 1148.4 L1325.5 1155.6 L1329.4 1152.8 L1341.0 1152.5 L1347.2 1150.9 L1353.7 1147.4 L1358.9 1152.5 L1362.7 1152.8 L1365.1 1155.9 L1370.5 1152.0 L1377.5 1150.9 L1383.7 1154.0 L1393.8 1153.6 L1399.2 1155.1 L1404.7 1150.9 L1409.3 1156.7 L1421.7 1153.6 L1425.6 1155.9 L1430.3 1154.0 L1436.5 1158.2 L1443.5 1156.2 L1449.7 1159.8 L1454.3 1157.1 L1460.6 1155.6 L1471.4 1158.2 L1477.6 1153.1 L1481.5 1155.9 L1490.8 1153.6 L1496.3 1151.2 L1503.3 1147.4 L1510.2 1147.8 L1516.8 1144.7 L1522.7 1148.4 L1530.4 1150.9 L1534.3 1153.3 L1542.9 1148.4 L1550.0 1147.3 L1553.9 1147.0 L1556.5 1148.8 L1560.6 1145.1 L1563.2 1149.8 L1570.2 1148.8 L1578.0 1146.2 L1588.0 1149.8 L1595.0 1145.7 L1601.2 1147.7 L1610.6 1149.8 L1621.4 1145.7 L1630.7 1144.2 L1633.9 1146.6 L1636.2 1144.6 L1647.0 1148.2 L1657.1 1141.5 L1661.0 1144.6 L1667.2 1138.4 L1673.4 1137.3 L1682.8 1139.5 L1685.1 1143.1 L1692.9 1138.4 L1708.4 1140.0 L1711.5 1137.3 L1720.0 1131.4 L1734.0 1134.5 L1744.9 1128.0 L1753.4 1129.6 L1760.9 1124.4 L1767.4 1131.1 L1775.2 1134.2 L1777.0 1137.3 L1782.9 1128.3 L1787.3 1126.5 L1793.8 1132.7 L1800.0 1134.2 L1807.8 1130.7 L1812.4 1126.8 L1817.9 1131.7 L1823.3 1131.7 L1831.4 1129.9 L1834.2 1131.1 L1837.3 1128.3 L1844.3 1131.1 L1848.1 1128.3 L1854.4 1127.5 L1855.9 1124.0 L1862.1 1123.7 L1869.9 1126.0 L1877.6 1119.8 L1886.2 1117.5 L1890.8 1121.3 L1897.1 1113.1 L1900.0 1114.9 L1907.8 1119.3 L1914.0 1111.8 L1920.2 1114.6 L1927.2 1106.8 L1933.4 1110.6 L1940.4 1105.6 L1948.1 1104.3 L1952.0 1109.5 L1953.6 1099.4 L1958.2 1093.2 L1960.9 1096.3 L1962.9 1089.3 L1967.5 1085.4 L1969.1 1090.1 L1969.9 1080.7 L1976.1 1088.5 L1978.4 1083.9 L1982.3 1089.8 L1985.7 1082.0 L1991.6 1088.5 L1997.0 1092.9 L2005.6 1085.1 L2012.1 1088.5 L2014.9 1083.9 L2021.9 1080.4 L2026.6 1085.4 L2028.1 1080.0 L2032.8 1076.1 L2054.0 1071.7" fill="none" stroke="#c9ef3f" stroke-width="1.9" stroke-linejoin="round" stroke-linecap="round"/><path d="M2054.0 1016.2 L2066.2 1018.2 L2072.4 1005.7 L2076.2 1006.5 L2078.6 1001.6 L2088.4 1010.4 L2094.9 996.4 L2101.9 994.1 L2108.1 997.2 L2110.4 1001.9 L2116.6 1000.3 L2119.3 993.3 L2125.9 996.9 L2129.8 993.3 L2135.3 981.7 L2139.9 980.1 L2143.8 976.7 L2146.6 980.9 L2148.5 972.7 L2153.9 977.3 L2164.0 969.3 L2164.8 953.7 L2171.7 951.9 L2172.0 942.9 L2174.9 929.7 L2177.2 928.6 L2181.1 894.7 L2184.2 880.7 L2183.9 866.8 L2185.4 848.9 L2188.5 874.5 L2189.6 845.8 L2193.5 872.2 L2195.8 876.1 L2198.1 873.0 L2200.5 880.7 L2204.4 878.9 L2209.0 880.7 L2211.5 880.0" fill="none" stroke="#b8f030" stroke-width="2.1" stroke-linejoin="round" stroke-linecap="round"/><path d="M352.0 818 V1252.0 H2212" fill="none" stroke="#fff" stroke-width="2.4"/><line x1="468.1" y1="1252.0" x2="468.1" y2="1267.2" stroke="#fff" stroke-width="2.4"/><line x1="695.0" y1="1252.0" x2="695.0" y2="1267.2" stroke="#fff" stroke-width="2.4"/><line x1="921.9" y1="1252.0" x2="921.9" y2="1267.2" stroke="#fff" stroke-width="2.4"/><line x1="1148.8" y1="1252.0" x2="1148.8" y2="1267.2" stroke="#fff" stroke-width="2.4"/><line x1="1375.7" y1="1252.0" x2="1375.7" y2="1267.2" stroke="#fff" stroke-width="2.4"/><line x1="1602.6" y1="1252.0" x2="1602.6" y2="1267.2" stroke="#fff" stroke-width="2.4"/><line x1="1829.5" y1="1252.0" x2="1829.5" y2="1267.2" stroke="#fff" stroke-width="2.4"/><line x1="2056.4" y1="1252.0" x2="2056.4" y2="1267.2" stroke="#fff" stroke-width="2.4"/><polygon points="376.8,1462.0 378.0,1456.5 440.0,1456.3 483.4,1453.9 500.4,1457.0 506.0,1454.4 558.9,1454.4 568.0,1446.0 583.6,1439.6 659.0,1438.8 672.0,1442.0 677.2,1438.8 720.0,1439.0 769.6,1438.8 803.4,1443.5 813.3,1442.0 819.0,1445.3 830.7,1446.1 838.5,1443.5 869.7,1446.1 876.2,1445.3 883.2,1442.7 891.8,1447.2 925.6,1445.1 941.2,1445.9 980.2,1444.8 1000.0,1446.6 1014.3,1449.2 1018.7,1445.3 1042.9,1444.0 1050.7,1446.1 1075.4,1445.1 1097.5,1442.7 1109.2,1445.3 1141.8,1443.5 1148.3,1444.0 1157.4,1447.2 1182.1,1446.6 1208.1,1444.6 1267.9,1445.9 1275.7,1449.2 1293.9,1445.6 1304.3,1445.6 1332.9,1448.5 1353.7,1445.6 1360.2,1446.1 1368.0,1448.7 1385.7,1448.7 1403.1,1450.8 1442.2,1450.8 1459.1,1452.4 1473.4,1449.2 1489.0,1450.5 1502.0,1447.2 1522.8,1447.2 1531.9,1449.2 1551.4,1445.6 1556.6,1449.2 1564.4,1450.3 1598.2,1449.2 1624.2,1449.8 1637.2,1447.2 1652.8,1445.6 1670.0,1446.6 1690.8,1446.6 1703.8,1444.0 1715.5,1444.0 1724.6,1446.1 1737.6,1442.2 1754.5,1440.9 1764.9,1444.0 1776.6,1444.0 1782.4,1442.0 1792.2,1445.1 1810.5,1446.6 1823.5,1444.8 1848.2,1444.0 1865.1,1440.4 1878.1,1439.6 1898.9,1436.8 1913.2,1437.0 1930.1,1434.9 1943.1,1432.3 1949.6,1429.7 1976.9,1426.6 1984.7,1430.5 1992.5,1430.0 1999.0,1428.4 2008.1,1429.0 2015.4,1431.0 2021.1,1425.3 2041.9,1420.6 2065.3,1421.9 2083.5,1419.8 2101.7,1420.6 2112.2,1416.7 2122.6,1415.4 2151.2,1407.6 2152.5,1410.2 2172.0,1394.1 2185.0,1394.6 2199.3,1399.8 2199.3,1463.0 376.8,1463.0" fill="url(#gNav)"/><polygon points="376.8,1462.0 378.0,1456.5 440.0,1456.3 483.4,1453.9 500.4,1457.0 506.0,1454.4 558.9,1454.4 568.0,1446.0 583.6,1439.6 659.0,1438.8 672.0,1442.0 677.2,1438.8 720.0,1439.0 769.6,1438.8 803.4,1443.5 813.3,1442.0 819.0,1445.3 830.7,1446.1 838.5,1443.5 869.7,1446.1 876.2,1445.3 883.2,1442.7 891.8,1447.2 925.6,1445.1 941.2,1445.9 980.2,1444.8 1000.0,1446.6 1014.3,1449.2 1018.7,1445.3 1042.9,1444.0 1050.7,1446.1 1075.4,1445.1 1097.5,1442.7 1109.2,1445.3 1141.8,1443.5 1148.3,1444.0 1157.4,1447.2 1182.1,1446.6 1208.1,1444.6 1267.9,1445.9 1275.7,1449.2 1293.9,1445.6 1304.3,1445.6 1332.9,1448.5 1353.7,1445.6 1360.2,1446.1 1368.0,1448.7 1385.7,1448.7 1403.1,1450.8 1442.2,1450.8 1459.1,1452.4 1473.4,1449.2 1489.0,1450.5 1502.0,1447.2 1522.8,1447.2 1531.9,1449.2 1551.4,1445.6 1556.6,1449.2 1564.4,1450.3 1598.2,1449.2 1624.2,1449.8 1637.2,1447.2 1652.8,1445.6 1670.0,1446.6 1690.8,1446.6 1703.8,1444.0 1715.5,1444.0 1724.6,1446.1 1737.6,1442.2 1754.5,1440.9 1764.9,1444.0 1776.6,1444.0 1782.4,1442.0 1792.2,1445.1 1810.5,1446.6 1823.5,1444.8 1848.2,1444.0 1865.1,1440.4 1878.1,1439.6 1898.9,1436.8 1913.2,1437.0 1930.1,1434.9 1943.1,1432.3 1949.6,1429.7 1976.9,1426.6 1984.7,1430.5 1992.5,1430.0 1999.0,1428.4 2008.1,1429.0 2015.4,1431.0 2021.1,1425.3 2041.9,1420.6 2065.3,1421.9 2083.5,1419.8 2101.7,1420.6 2112.2,1416.7 2122.6,1415.4 2151.2,1407.6 2152.5,1410.2 2172.0,1394.1 2185.0,1394.6 2199.3,1399.8 2199.3,1463.0 376.8,1463.0" fill="url(#gNavV)"/><path d="M376.8 1462.0 L378.0 1456.5 L440.0 1456.3 L483.4 1453.9 L500.4 1457.0 L506.0 1454.4 L558.9 1454.4 L568.0 1446.0 L583.6 1439.6 L659.0 1438.8 L672.0 1442.0 L677.2 1438.8 L720.0 1439.0 L769.6 1438.8 L803.4 1443.5 L813.3 1442.0 L819.0 1445.3 L830.7 1446.1 L838.5 1443.5 L869.7 1446.1 L876.2 1445.3 L883.2 1442.7 L891.8 1447.2 L925.6 1445.1 L941.2 1445.9 L980.2 1444.8 L1000.0 1446.6 L1014.3 1449.2 L1018.7 1445.3 L1042.9 1444.0 L1050.7 1446.1 L1075.4 1445.1 L1097.5 1442.7 L1109.2 1445.3 L1141.8 1443.5 L1148.3 1444.0 L1157.4 1447.2 L1182.1 1446.6 L1208.1 1444.6 L1267.9 1445.9 L1275.7 1449.2 L1293.9 1445.6 L1304.3 1445.6 L1332.9 1448.5 L1353.7 1445.6 L1360.2 1446.1 L1368.0 1448.7 L1385.7 1448.7 L1403.1 1450.8 L1442.2 1450.8 L1459.1 1452.4 L1473.4 1449.2 L1489.0 1450.5 L1502.0 1447.2 L1522.8 1447.2 L1531.9 1449.2 L1551.4 1445.6 L1556.6 1449.2 L1564.4 1450.3 L1598.2 1449.2 L1624.2 1449.8 L1637.2 1447.2 L1652.8 1445.6 L1670.0 1446.6 L1690.8 1446.6 L1703.8 1444.0 L1715.5 1444.0 L1724.6 1446.1 L1737.6 1442.2 L1754.5 1440.9 L1764.9 1444.0 L1776.6 1444.0 L1782.4 1442.0 L1792.2 1445.1 L1810.5 1446.6 L1823.5 1444.8 L1848.2 1444.0 L1865.1 1440.4 L1878.1 1439.6 L1898.9 1436.8 L1913.2 1437.0 L1930.1 1434.9 L1943.1 1432.3 L1949.6 1429.7 L1976.9 1426.6 L1984.7 1430.5 L1992.5 1430.0 L1999.0 1428.4 L2008.1 1429.0 L2015.4 1431.0 L2021.1 1425.3 L2041.9 1420.6 L2065.3 1421.9 L2083.5 1419.8 L2101.7 1420.6 L2112.2 1416.7 L2122.6 1415.4 L2151.2 1407.6 L2152.5 1410.2 L2172.0 1394.1 L2185.0 1394.6 L2199.3 1399.8 V1463" fill="none" stroke="#a9e22e" stroke-width="2.2" stroke-linejoin="round"/><line x1="495.7" y1="1368" x2="495.7" y2="1462" stroke="#8c8c8c" stroke-width="1.2" stroke-dasharray="4.5 3"/><line x1="941.7" y1="1368" x2="941.7" y2="1462" stroke="#8c8c8c" stroke-width="1.2" stroke-dasharray="4.5 3"/><line x1="1385.7" y1="1368" x2="1385.7" y2="1462" stroke="#8c8c8c" stroke-width="1.2" stroke-dasharray="4.5 3"/><line x1="1831.3" y1="1368" x2="1831.3" y2="1462" stroke="#8c8c8c" stroke-width="1.2" stroke-dasharray="4.5 3"/><rect x="358.4" y="1367.3" width="1851.9" height="95.6" fill="none" stroke="#fff" stroke-width="2.4"/><rect x="352" y="1392.4" width="15.9" height="47.1" fill="#000" stroke="#fff" stroke-width="2.2"/><rect x="2200.7" y="1400.9" width="15.9" height="46.7" fill="#000" stroke="#fff" stroke-width="2.2"/><path d="M231.60 521.6 L237.40 531.2 H225.80 Z" fill="#b6f337" stroke="#b6f337" stroke-width="1.8" stroke-linejoin="round"/><path d="M834.80 521.6 L840.60 531.2 H829.00 Z" fill="#b6f337" stroke="#b6f337" stroke-width="1.8" stroke-linejoin="round"/><path d="M1614.30 521.6 L1620.10 531.2 H1608.50 Z" fill="#b6f337" stroke="#b6f337" stroke-width="1.8" stroke-linejoin="round"/><path d="M2402.50 521.6 L2408.30 531.2 H2396.70 Z" fill="#b6f337" stroke="#b6f337" stroke-width="1.8" stroke-linejoin="round"/><path d="M925.4 734 L933.2 743 L941 734" fill="none" stroke="#fff" stroke-width="2.2" stroke-linecap="round" stroke-linejoin="round"/><g fill="#fff"><path fill-rule="evenodd" d="M179.8 240.5 H266.1 a1.6 1.6 0 0 1 1.6 1.6 V328.4 a1.6 1.6 0 0 1 -1.6 1.6 H179.8 a1.6 1.6 0 0 1 -1.6 -1.6 V242.1 a1.6 1.6 0 0 1 1.6 -1.6 Z M209.4 270.4 a1.2 1.2 0 0 0 -1.2 1.2 V298.9 a1.2 1.2 0 0 0 1.2 1.2 H236.7 a1.2 1.2 0 0 0 1.2 -1.2 V271.6 a1.2 1.2 0 0 0 -1.2 -1.2 Z"/><rect x="282.10" y="240.50" width="30.00" height="89.50" rx="1.6"/><rect x="311.00" y="270.30" width="31.10" height="29.80" rx="1.6"/><rect x="341.90" y="240.50" width="29.90" height="29.90" rx="1.6"/><rect x="341.90" y="300.10" width="29.90" height="29.90" rx="1.6"/><rect x="386.40" y="240.50" width="29.80" height="29.90" rx="1.6"/><rect x="446.20" y="240.50" width="29.80" height="29.90" rx="1.6"/><rect x="416.30" y="270.30" width="29.80" height="29.90" rx="1.6"/><rect x="386.40" y="300.10" width="29.80" height="29.90" rx="1.6"/><rect x="446.20" y="300.10" width="29.80" height="29.90" rx="1.6"/></g><g fill="none" stroke="#9a9a9a" stroke-width="1.9" stroke-linecap="butt">
<path d="M2466.3 1438.9 H2486.3 M2464.6 1448.2 H2488.2 M2476.4 1433.4 V1458.4 M2470.6 1440.6 L2472.9 1446.4 M2482.2 1440.6 L2479.9 1446.4 M2475.6 1449 Q2472 1454.6 2464.8 1457.2 M2477.2 1449 Q2480.8 1454.6 2488 1457.2"/>
<path d="M2493.6 1435.2 L2496.8 1438 M2492.4 1442.4 L2495.6 1445.2 M2492.8 1457.4 L2496.6 1449.6 M2499.2 1435.6 H2516.2 M2500.4 1435.6 V1446 Q2500.2 1453.4 2497.2 1457.8 M2508.4 1436 L2507 1439.4 M2503.6 1439.8 H2513.8 V1448.8 H2503.6 Z M2503.6 1444.3 H2513.8 M2508.7 1449 V1457 Q2508.7 1458 2506.6 1457.8 M2504.6 1451.4 L2502.4 1455.8 M2512.6 1451.4 L2515.2 1455.8"/>
</g></svg>
<div class="btn on" style="left:219px;width:177.8px"></div>
<div class="btn" style="left:419.9px;width:262.1px"></div>
<div class="btn" style="left:705.6px;width:220.4px"></div>
<div class="btn" style="left:949.5px;width:251.9px"></div>
<div class="btn" style="left:1224.7px;width:132.8px"></div>
<div class="track"></div><div class="knob"></div>
<div class="select"></div>
<div class="sw" style="top:685.4px;background:#b6f337"></div><div class="sw" style="top:736.1px;background:#10f452"></div><div class="sw" style="top:792.6px;background:#74dcf4"></div><div class="sw" style="top:843.1px;background:#f0464e"></div><div class="sw" style="top:893.3px;background:#fbfbdc"></div><div class="sw" style="top:948.7px;background:#64dcf2"></div><div class="sw" style="top:999.7px;background:#5e5e5e"></div><div class="sw" style="top:1055.5px;background:#fcfcc8"></div><div class="sw" style="top:1160.5px;background:#a2a2a2"></div><div class="sw" style="top:1259.4px;background:#93c7bf"></div>
<div class="txt"><span class="t" style="left:215.46px;top:390.00px;font-size:36px;font-weight:700;color:#ffffff;transform:scaleX(1.0629)">Market Cap</span><span class="t" style="left:218.01px;top:428.21px;font-size:76px;font-weight:700;color:#b6f337;transform:scale(0.9347,1.0656)">$</span><span class="t" style="left:260.06px;top:434.90px;font-size:70px;font-weight:700;color:#b6f337;transform:scaleX(0.9946)">3.45B</span><span class="t" style="left:245.69px;top:513.70px;font-size:23.5px;font-weight:700;color:#b6f337;transform:scaleX(1.0125)">+16.11%</span><span class="t" style="left:344.82px;top:513.70px;font-size:23.5px;font-weight:700;color:#ffffff;transform:scaleX(0.9816)">from 30d ago</span><span class="t" style="left:822.69px;top:390.00px;font-size:36px;font-weight:700;color:#ffffff;transform:scaleX(1.0497)">Monthly Transfer Volume</span><span class="t" style="left:821.41px;top:428.21px;font-size:76px;font-weight:700;color:#b6f337;transform:scale(0.9347,1.0656)">$</span><span class="t" style="left:861.78px;top:434.90px;font-size:70px;font-weight:700;color:#b6f337;transform:scaleX(1.0059)">8.22B</span><span class="t" style="left:849.61px;top:513.70px;font-size:23.5px;font-weight:700;color:#b6f337;transform:scaleX(0.9996)">+134.71%</span><span class="t" style="left:962.21px;top:513.70px;font-size:23.5px;font-weight:700;color:#ffffff;transform:scaleX(0.9844)">from 30d ago</span><span class="t" style="left:1601.84px;top:390.00px;font-size:36px;font-weight:700;color:#ffffff;transform:scaleX(1.0283)">Monthly Active Addresses</span><span class="t" style="left:1600.68px;top:434.90px;font-size:70px;font-weight:700;color:#b6f337;transform:scaleX(1.0404)">31,326</span><span class="t" style="left:1629.61px;top:513.70px;font-size:23.5px;font-weight:700;color:#b6f337;transform:scaleX(0.9985)">+92.18%</span><span class="t" style="left:1728.62px;top:513.70px;font-size:23.5px;font-weight:700;color:#ffffff;transform:scaleX(0.9816)">from 30d ago</span><span class="t" style="left:2390.32px;top:390.00px;font-size:36px;font-weight:700;color:#ffffff;transform:scaleX(1.0373)">Holders</span><span class="t" style="left:2389.67px;top:434.90px;font-size:70px;font-weight:700;color:#b6f337;transform:scaleX(1.0181)">163.99K</span><span class="t" style="left:2418.21px;top:513.70px;font-size:23.5px;font-weight:700;color:#b6f337;transform:scaleX(0.9941)">+10.75%</span><span class="t" style="left:2516.91px;top:513.70px;font-size:23.5px;font-weight:700;color:#ffffff;transform:scaleX(0.9844)">from 30d ago</span><span class="t" style="left:218.67px;top:601.20px;font-size:36px;font-weight:700;color:#ffffff;transform:scaleX(1.0342)">Commodity Metrics</span><span class="t" style="left:239.09px;top:663.60px;font-size:22px;font-weight:700;color:#0b160b;transform:scaleX(1.0458)">Market Caps</span><span class="t" style="left:462.33px;top:665.80px;font-size:23px;font-weight:700;color:#0b160b;transform:scaleX(0.9993)">Transfer Volume</span><span class="t" style="left:724.14px;top:666.00px;font-size:23px;font-weight:700;color:#0b160b;transform:scaleX(0.9639)">Active Addresses</span><span class="t" style="left:964.09px;top:665.70px;font-size:23px;font-weight:700;color:#0b160b;transform:scaleX(1.0051)">Mint / Burn Volumes</span><span class="t" style="left:1248.82px;top:665.70px;font-size:23px;font-weight:700;color:#0b160b;transform:scaleX(0.9869)">Holders</span><span class="t" style="left:219.49px;top:726.70px;font-size:27px;font-weight:700;color:#ffffff;transform:scaleX(1.0005)">Show % of Total</span><span class="t" style="left:552.15px;top:722.40px;font-size:27px;font-weight:700;color:#ffffff;transform:scaleX(0.9719)">Group By</span><span class="t" style="left:715.60px;top:727.50px;font-size:23px;font-weight:700;color:#ffffff;transform:scaleX(1.0155)">Asset</span><span class="t" style="left:232.06px;top:818.20px;font-size:29.5px;font-weight:700;color:#ffffff;transform:scaleX(1.0394)">$4.0B</span><span class="t" style="left:235.66px;top:921.00px;font-size:29.5px;font-weight:700;color:#ffffff;transform:scaleX(1.0433)">$3.0B</span><span class="t" style="left:235.68px;top:1022.80px;font-size:29.5px;font-weight:700;color:#ffffff;transform:scaleX(1.0186)">$2.0B</span><span class="t" style="left:244.62px;top:1125.60px;font-size:29.5px;font-weight:700;color:#ffffff;transform:scaleX(0.9472)">$1.0B</span><span class="t" style="left:239.51px;top:1227.50px;font-size:29.5px;font-weight:700;color:#ffffff;transform:scaleX(1.1293)">$0.00</span><span class="t" style="left:427.44px;top:1277.50px;font-size:32px;font-weight:400;color:#ffffff;transform:scaleX(0.9358)">1/1/22</span><span class="t" style="left:651.40px;top:1277.50px;font-size:32px;font-weight:400;color:#ffffff;transform:scaleX(0.9992)">7/1/22</span><span class="t" style="left:880.95px;top:1277.50px;font-size:32px;font-weight:400;color:#ffffff;transform:scaleX(0.9342)">1/1/23</span><span class="t" style="left:1104.79px;top:1277.50px;font-size:32px;font-weight:400;color:#ffffff;transform:scaleX(1.0067)">7/1/23</span><span class="t" style="left:1335.40px;top:1277.50px;font-size:32px;font-weight:400;color:#ffffff;transform:scaleX(0.9523)">1/1/24</span><span class="t" style="left:1561.08px;top:1277.50px;font-size:32px;font-weight:400;color:#ffffff;transform:scaleX(1.0115)">7/1/24</span><span class="t" style="left:1792.86px;top:1277.50px;font-size:32px;font-weight:400;color:#ffffff;transform:scaleX(0.9289)">1/1/25</span><span class="t" style="left:2013.89px;top:1277.50px;font-size:32px;font-weight:400;color:#ffffff;transform:scaleX(1.0061)">7/1/25</span><span class="t" style="left:504.88px;top:1402.40px;font-size:19.5px;font-weight:700;color:#ffffff;transform:scaleX(1.1435)">2022</span><span class="t" style="left:950.88px;top:1402.40px;font-size:19.5px;font-weight:700;color:#ffffff;transform:scaleX(1.1429)">2023</span><span class="t" style="left:1395.18px;top:1402.40px;font-size:19.5px;font-weight:700;color:#ffffff;transform:scaleX(1.1432)">2024</span><span class="t" style="left:1841.47px;top:1402.40px;font-size:19.5px;font-weight:700;color:#ffffff;transform:scaleX(1.1587)">2025</span><span class="t" style="left:2413.35px;top:678.40px;font-size:32px;font-weight:700;color:#ffffff;transform:scaleX(0.9897)">Tether Gold</span><span class="t" style="left:2412.15px;top:730.85px;font-size:32px;font-weight:700;color:#ffffff;transform:scaleX(0.9365)">Paxos GoldJ</span><span class="t" style="left:2412.62px;top:783.30px;font-size:32px;font-weight:700;color:#ffffff;transform:scaleX(0.9399)">SOY_OIL</span><span class="t" style="left:2413.11px;top:835.75px;font-size:32px;font-weight:700;color:#ffffff;transform:scaleX(0.9318)">JSOY</span><span class="t" style="left:2412.56px;top:888.20px;font-size:32px;font-weight:700;color:#ffffff;transform:scaleX(0.9778)">Matrixdock Gold</span><span class="t" style="left:2413.11px;top:940.65px;font-size:32px;font-weight:700;color:#ffffff;transform:scaleX(0.9343)">JCOT</span><span class="t" style="left:2413.00px;top:993.10px;font-size:32px;font-weight:700;color:#ffffff;transform:scaleX(0.9466)">JCORN</span><span class="t" style="left:2414.21px;top:1045.55px;font-size:32px;font-weight:700;color:#ffffff;transform:scaleX(0.9678)">WisdomTree</span><span class="t" style="left:2413.09px;top:1098.00px;font-size:32px;font-weight:700;color:#ffffff;transform:scaleX(0.9704)">Gold Token</span><span class="t" style="left:2412.81px;top:1150.45px;font-size:32px;font-weight:700;color:#ffffff;transform:scaleX(1.0018)">Mineral Vault I</span><span class="t" style="left:2412.48px;top:1202.90px;font-size:32px;font-weight:700;color:#ffffff;transform:scaleX(0.9776)">Security Token</span><span class="t" style="left:2414.05px;top:1255.35px;font-size:32px;font-weight:700;color:#ffffff;transform:scaleX(0.9786)">Teucrium Wheat</span><span class="t" style="left:2412.84px;top:1307.80px;font-size:32px;font-weight:700;color:#ffffff;transform:scaleX(0.9910)">Fund - Dinari</span><span class="t" style="left:2516.94px;top:1433.50px;font-size:28px;font-weight:400;color:#9a9a9a;transform:scaleX(0.9698)">:RWA.xyz</span></div>
</body></html>
